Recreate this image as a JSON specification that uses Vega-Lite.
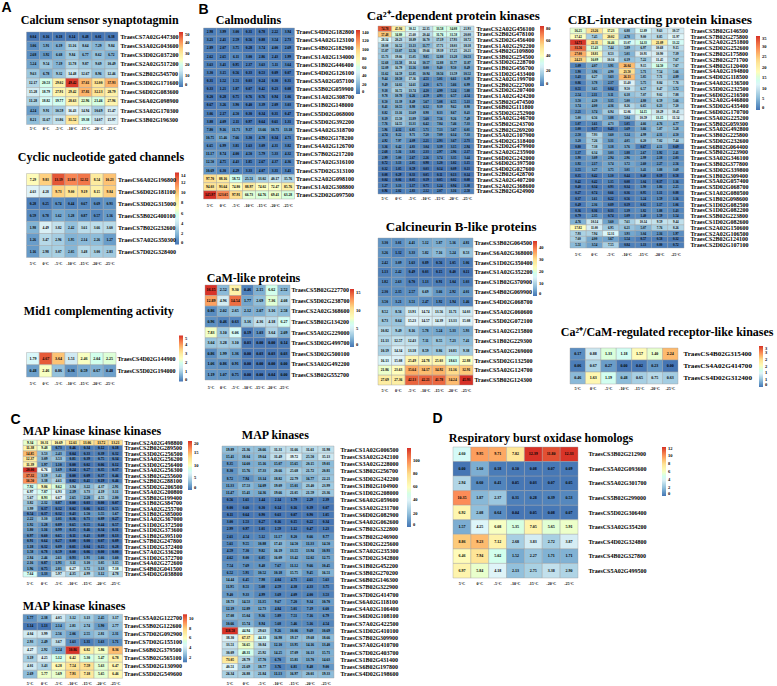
{"$schema":"https://vega.github.io/schema/vega-lite/v6.json","padding":0,"background":"white","config":{"view":{"stroke":null},"scale":{"bandPaddingInner":0,"bandPaddingOuter":0},"axis":{"grid":false,"domain":false,"ticks":false,"labelFont":"Liberation Serif","labelFontWeight":"bold","labelColor":"black","labelOverlap":false,"labelBound":false,"labelFlush":false,"labelLimit":300},"legend":{"gradientThickness":4,"gradientStrokeWidth":0,"labelFont":"Liberation Serif","labelFontSize":4.5,"labelFontWeight":"bold","labelColor":"black","labelOffset":2,"labelOverlap":false,"padding":0},"title":{"font":"Liberation Serif","fontWeight":"bold","color":"black","fontSize":12,"anchor":"start","baseline":"alphabetic"},"text":{"font":"Liberation Serif","fontWeight":"bold","fontSize":3.6,"color":"black"},"rect":{"stroke":"#a0a0a0","strokeWidth":0.4}},
"datasets":{
"a1":[{"gene":"TraesCS7A02G447300","temp":5,"value":0.04},{"gene":"TraesCS7A02G447300","temp":0,"value":0.16},{"gene":"TraesCS7A02G447300","temp":-5,"value":0.18},{"gene":"TraesCS7A02G447300","temp":-10,"value":0.14},{"gene":"TraesCS7A02G447300","temp":-15,"value":0.48},{"gene":"TraesCS7A02G447300","temp":-20,"value":0.01},{"gene":"TraesCS7A02G447300","temp":-25,"value":0.38},
{"gene":"TraesCS3A02G043600","temp":5,"value":3.06},{"gene":"TraesCS3A02G043600","temp":0,"value":5.91},{"gene":"TraesCS3A02G043600","temp":-5,"value":6.19},{"gene":"TraesCS3A02G043600","temp":-10,"value":11.16},{"gene":"TraesCS3A02G043600","temp":-15,"value":8.64},{"gene":"TraesCS3A02G043600","temp":-20,"value":7.29},{"gene":"TraesCS3A02G043600","temp":-25,"value":9.84},
{"gene":"TraesCS3D02G037200","temp":5,"value":2.68},{"gene":"TraesCS3D02G037200","temp":0,"value":3.92},{"gene":"TraesCS3D02G037200","temp":-5,"value":6.68},{"gene":"TraesCS3D02G037200","temp":-10,"value":9.84},{"gene":"TraesCS3D02G037200","temp":-15,"value":6.77},{"gene":"TraesCS3D02G037200","temp":-20,"value":8.62},{"gene":"TraesCS3D02G037200","temp":-25,"value":6.72},
{"gene":"TraesCS2A02G517200","temp":5,"value":5.24},{"gene":"TraesCS2A02G517200","temp":0,"value":9.54},{"gene":"TraesCS2A02G517200","temp":-5,"value":7.19},{"gene":"TraesCS2A02G517200","temp":-10,"value":11.78},{"gene":"TraesCS2A02G517200","temp":-15,"value":9.87},{"gene":"TraesCS2A02G517200","temp":-20,"value":9.69},{"gene":"TraesCS2A02G517200","temp":-25,"value":10.49},
{"gene":"TraesCS2B02G545700","temp":5,"value":9.63},{"gene":"TraesCS2B02G545700","temp":0,"value":6.78},{"gene":"TraesCS2B02G545700","temp":-5,"value":9.32},{"gene":"TraesCS2B02G545700","temp":-10,"value":14.48},{"gene":"TraesCS2B02G545700","temp":-15,"value":12.67},{"gene":"TraesCS2B02G545700","temp":-20,"value":8.96},{"gene":"TraesCS2B02G545700","temp":-25,"value":12.46},
{"gene":"TraesCS3D02G171600","temp":5,"value":12.17},{"gene":"TraesCS3D02G171600","temp":0,"value":20.53},{"gene":"TraesCS3D02G171600","temp":-5,"value":29.02},{"gene":"TraesCS3D02G171600","temp":-10,"value":49.42},{"gene":"TraesCS3D02G171600","temp":-15,"value":37.61},{"gene":"TraesCS3D02G171600","temp":-20,"value":32.0},{"gene":"TraesCS3D02G171600","temp":-25,"value":37.93},
{"gene":"TraesCS6D02G083600","temp":5,"value":15.28},{"gene":"TraesCS6D02G083600","temp":0,"value":18.79},{"gene":"TraesCS6D02G083600","temp":-5,"value":27.91},{"gene":"TraesCS6D02G083600","temp":-10,"value":29.42},{"gene":"TraesCS6D02G083600","temp":-15,"value":37.81},{"gene":"TraesCS6D02G083600","temp":-20,"value":32.13},{"gene":"TraesCS6D02G083600","temp":-25,"value":28.79},
{"gene":"TraesCS6A02G098900","temp":5,"value":11.28},{"gene":"TraesCS6A02G098900","temp":0,"value":18.82},{"gene":"TraesCS6A02G098900","temp":-5,"value":19.77},{"gene":"TraesCS6A02G098900","temp":-10,"value":28.63},{"gene":"TraesCS6A02G098900","temp":-15,"value":22.96},{"gene":"TraesCS6A02G098900","temp":-20,"value":21.46},{"gene":"TraesCS6A02G098900","temp":-25,"value":27.96},
{"gene":"TraesCS3A02G170300","temp":5,"value":4.24},{"gene":"TraesCS3A02G170300","temp":0,"value":9.91},{"gene":"TraesCS3A02G170300","temp":-5,"value":10.59},{"gene":"TraesCS3A02G170300","temp":-10,"value":16.43},{"gene":"TraesCS3A02G170300","temp":-15,"value":14.94},{"gene":"TraesCS3A02G170300","temp":-20,"value":10.69},{"gene":"TraesCS3A02G170300","temp":-25,"value":15.47},
{"gene":"TraesCS3B02G196300","temp":5,"value":8.21},{"gene":"TraesCS3B02G196300","temp":0,"value":11.67},{"gene":"TraesCS3B02G196300","temp":-5,"value":13.86},{"gene":"TraesCS3B02G196300","temp":-10,"value":31.52},{"gene":"TraesCS3B02G196300","temp":-15,"value":19.38},{"gene":"TraesCS3B02G196300","temp":-20,"value":14.07},{"gene":"TraesCS3B02G196300","temp":-25,"value":15.97}],
"a2":[{"gene":"TraesCS6A02G196800","temp":5,"value":7.29},{"gene":"TraesCS6A02G196800","temp":0,"value":9.83},{"gene":"TraesCS6A02G196800","temp":-5,"value":13.19},{"gene":"TraesCS6A02G196800","temp":-10,"value":11.88},{"gene":"TraesCS6A02G196800","temp":-15,"value":12.32},{"gene":"TraesCS6A02G196800","temp":-20,"value":8.54},{"gene":"TraesCS6A02G196800","temp":-25,"value":10.23},
{"gene":"TraesCS6D02G181100","temp":5,"value":4.63},{"gene":"TraesCS6D02G181100","temp":0,"value":4.28},{"gene":"TraesCS6D02G181100","temp":-5,"value":9.73},{"gene":"TraesCS6D02G181100","temp":-10,"value":9.0},{"gene":"TraesCS6D02G181100","temp":-15,"value":9.19},{"gene":"TraesCS6D02G181100","temp":-20,"value":8.15},{"gene":"TraesCS6D02G181100","temp":-25,"value":9.84},
{"gene":"TraesCS3D02G315000","temp":5,"value":0.28},{"gene":"TraesCS3D02G315000","temp":0,"value":0.25},{"gene":"TraesCS3D02G315000","temp":-5,"value":0.74},{"gene":"TraesCS3D02G315000","temp":-10,"value":0.44},{"gene":"TraesCS3D02G315000","temp":-15,"value":0.67},{"gene":"TraesCS3D02G315000","temp":-20,"value":0.69},{"gene":"TraesCS3D02G315000","temp":-25,"value":0.93},
{"gene":"TraesCS5B02G400100","temp":5,"value":0.59},{"gene":"TraesCS5B02G400100","temp":0,"value":0.78},{"gene":"TraesCS5B02G400100","temp":-5,"value":1.62},{"gene":"TraesCS5B02G400100","temp":-10,"value":1.28},{"gene":"TraesCS5B02G400100","temp":-15,"value":0.87},{"gene":"TraesCS5B02G400100","temp":-20,"value":0.57},{"gene":"TraesCS5B02G400100","temp":-25,"value":1.16},
{"gene":"TraesCS7B02G232600","temp":5,"value":1.98},{"gene":"TraesCS7B02G232600","temp":0,"value":4.49},{"gene":"TraesCS7B02G232600","temp":-5,"value":3.82},{"gene":"TraesCS7B02G232600","temp":-10,"value":2.42},{"gene":"TraesCS7B02G232600","temp":-15,"value":3.61},{"gene":"TraesCS7B02G232600","temp":-20,"value":3.66},{"gene":"TraesCS7B02G232600","temp":-25,"value":3.6},
{"gene":"TraesCS7A02G350300","temp":5,"value":1.26},{"gene":"TraesCS7A02G350300","temp":0,"value":3.47},{"gene":"TraesCS7A02G350300","temp":-5,"value":2.96},{"gene":"TraesCS7A02G350300","temp":-10,"value":1.95},{"gene":"TraesCS7A02G350300","temp":-15,"value":2.14},{"gene":"TraesCS7A02G350300","temp":-20,"value":2.26},{"gene":"TraesCS7A02G350300","temp":-25,"value":1.27},
{"gene":"TraesCS7D02G328400","temp":5,"value":1.16},{"gene":"TraesCS7D02G328400","temp":0,"value":2.98},{"gene":"TraesCS7D02G328400","temp":-5,"value":3.07},{"gene":"TraesCS7D02G328400","temp":-10,"value":2.05},{"gene":"TraesCS7D02G328400","temp":-15,"value":3.48},{"gene":"TraesCS7D02G328400","temp":-20,"value":3.0},{"gene":"TraesCS7D02G328400","temp":-25,"value":2.83}],
"a3":[{"gene":"TraesCS4D02G144900","temp":5,"value":1.79},{"gene":"TraesCS4D02G144900","temp":0,"value":4.67},{"gene":"TraesCS4D02G144900","temp":-5,"value":3.64},{"gene":"TraesCS4D02G144900","temp":-10,"value":1.51},{"gene":"TraesCS4D02G144900","temp":-15,"value":2.46},{"gene":"TraesCS4D02G144900","temp":-20,"value":2.04},{"gene":"TraesCS4D02G144900","temp":-25,"value":2.25},
{"gene":"TraesCS5D02G194000","temp":5,"value":0.48},{"gene":"TraesCS5D02G194000","temp":0,"value":2.46},{"gene":"TraesCS5D02G194000","temp":-5,"value":0.86},{"gene":"TraesCS5D02G194000","temp":-10,"value":0.36},{"gene":"TraesCS5D02G194000","temp":-15,"value":0.59},{"gene":"TraesCS5D02G194000","temp":-20,"value":0.67},{"gene":"TraesCS5D02G194000","temp":-25,"value":0.48}],
"b1":[{"gene":"TraesCS4D02G182800","temp":5,"value":2.98},{"gene":"TraesCS4D02G182800","temp":0,"value":3.99},{"gene":"TraesCS4D02G182800","temp":-5,"value":3.0},{"gene":"TraesCS4D02G182800","temp":-10,"value":0.31},{"gene":"TraesCS4D02G182800","temp":-15,"value":0.78},{"gene":"TraesCS4D02G182800","temp":-20,"value":2.22},{"gene":"TraesCS4D02G182800","temp":-25,"value":3.94},
{"gene":"TraesCS4A02G123100","temp":5,"value":3.21},{"gene":"TraesCS4A02G123100","temp":0,"value":2.41},{"gene":"TraesCS4A02G123100","temp":-5,"value":2.59},{"gene":"TraesCS4A02G123100","temp":-10,"value":0.56},{"gene":"TraesCS4A02G123100","temp":-15,"value":0.88},{"gene":"TraesCS4A02G123100","temp":-20,"value":3.54},{"gene":"TraesCS4A02G123100","temp":-25,"value":2.73},
{"gene":"TraesCS4B02G182900","temp":5,"value":2.89},{"gene":"TraesCS4B02G182900","temp":0,"value":2.07},{"gene":"TraesCS4B02G182900","temp":-5,"value":3.75},{"gene":"TraesCS4B02G182900","temp":-10,"value":0.28},{"gene":"TraesCS4B02G182900","temp":-15,"value":3.74},{"gene":"TraesCS4B02G182900","temp":-20,"value":4.0},{"gene":"TraesCS4B02G182900","temp":-25,"value":2.69},
{"gene":"TraesCS1A02G134000","temp":5,"value":2.62},{"gene":"TraesCS1A02G134000","temp":0,"value":2.65},{"gene":"TraesCS1A02G134000","temp":-5,"value":6.11},{"gene":"TraesCS1A02G134000","temp":-10,"value":3.0},{"gene":"TraesCS1A02G134000","temp":-15,"value":2.86},{"gene":"TraesCS1A02G134000","temp":-20,"value":2.43},{"gene":"TraesCS1A02G134000","temp":-25,"value":1.99},
{"gene":"TraesCS1B02G446400","temp":5,"value":3.63},{"gene":"TraesCS1B02G446400","temp":0,"value":3.41},{"gene":"TraesCS1B02G446400","temp":-5,"value":0.95},{"gene":"TraesCS1B02G446400","temp":-10,"value":2.37},{"gene":"TraesCS1B02G446400","temp":-15,"value":3.63},{"gene":"TraesCS1B02G446400","temp":-20,"value":5.11},{"gene":"TraesCS1B02G446400","temp":-25,"value":3.64},
{"gene":"TraesCS4D02G126100","temp":5,"value":3.3},{"gene":"TraesCS4D02G126100","temp":0,"value":3.15},{"gene":"TraesCS4D02G126100","temp":-5,"value":0.56},{"gene":"TraesCS4D02G126100","temp":-10,"value":0.33},{"gene":"TraesCS4D02G126100","temp":-15,"value":0.53},{"gene":"TraesCS4D02G126100","temp":-20,"value":0.09},{"gene":"TraesCS4D02G126100","temp":-25,"value":0.07},
{"gene":"TraesCS5A02G057100","temp":5,"value":0.31},{"gene":"TraesCS5A02G057100","temp":0,"value":1.52},{"gene":"TraesCS5A02G057100","temp":-5,"value":1.51},{"gene":"TraesCS5A02G057100","temp":-10,"value":0.03},{"gene":"TraesCS5A02G057100","temp":-15,"value":0.24},{"gene":"TraesCS5A02G057100","temp":-20,"value":0.3},{"gene":"TraesCS5A02G057100","temp":-25,"value":0.31},
{"gene":"TraesCS5B02G059900","temp":5,"value":0.33},{"gene":"TraesCS5B02G059900","temp":0,"value":1.21},{"gene":"TraesCS5B02G059900","temp":-5,"value":1.87},{"gene":"TraesCS5B02G059900","temp":-10,"value":0.07},{"gene":"TraesCS5B02G059900","temp":-15,"value":0.42},{"gene":"TraesCS5B02G059900","temp":-20,"value":0.23},{"gene":"TraesCS5B02G059900","temp":-25,"value":0.08},
{"gene":"TraesCS1A02G308700","temp":5,"value":0.2},{"gene":"TraesCS1A02G308700","temp":0,"value":0.28},{"gene":"TraesCS1A02G308700","temp":-5,"value":0.75},{"gene":"TraesCS1A02G308700","temp":-10,"value":0.76},{"gene":"TraesCS1A02G308700","temp":-15,"value":0.76},{"gene":"TraesCS1A02G308700","temp":-20,"value":0.94},{"gene":"TraesCS1A02G308700","temp":-25,"value":1.06},
{"gene":"TraesCS1B02G148000","temp":5,"value":0.67},{"gene":"TraesCS1B02G148000","temp":0,"value":3.26},{"gene":"TraesCS1B02G148000","temp":-5,"value":3.9},{"gene":"TraesCS1B02G148000","temp":-10,"value":0.4},{"gene":"TraesCS1B02G148000","temp":-15,"value":3.39},{"gene":"TraesCS1B02G148000","temp":-20,"value":2.09},{"gene":"TraesCS1B02G148000","temp":-25,"value":3.03},
{"gene":"TraesCS5D02G068000","temp":5,"value":3.06},{"gene":"TraesCS5D02G068000","temp":0,"value":2.17},{"gene":"TraesCS5D02G068000","temp":-5,"value":4.5},{"gene":"TraesCS5D02G068000","temp":-10,"value":0.3},{"gene":"TraesCS5D02G068000","temp":-15,"value":0.34},{"gene":"TraesCS5D02G068000","temp":-20,"value":0.31},{"gene":"TraesCS5D02G068000","temp":-25,"value":0.47},
{"gene":"TraesCS5D02G392200","temp":5,"value":3.88},{"gene":"TraesCS5D02G392200","temp":0,"value":4.09},{"gene":"TraesCS5D02G392200","temp":-5,"value":2.11},{"gene":"TraesCS5D02G392200","temp":-10,"value":0.97},{"gene":"TraesCS5D02G392200","temp":-15,"value":0.64},{"gene":"TraesCS5D02G392200","temp":-20,"value":0.61},{"gene":"TraesCS5D02G392200","temp":-25,"value":1.31},
{"gene":"TraesCS4A02G318700","temp":5,"value":7.8},{"gene":"TraesCS4A02G318700","temp":0,"value":9.16},{"gene":"TraesCS4A02G318700","temp":-5,"value":11.71},{"gene":"TraesCS4A02G318700","temp":-10,"value":9.37},{"gene":"TraesCS4A02G318700","temp":-15,"value":13.66},{"gene":"TraesCS4A02G318700","temp":-20,"value":10.71},{"gene":"TraesCS4A02G318700","temp":-25,"value":13.18},
{"gene":"TraesCS4B02G178200","temp":5,"value":10.75},{"gene":"TraesCS4B02G178200","temp":0,"value":15.46},{"gene":"TraesCS4B02G178200","temp":-5,"value":7.66},{"gene":"TraesCS4B02G178200","temp":-10,"value":3.3},{"gene":"TraesCS4B02G178200","temp":-15,"value":4.78},{"gene":"TraesCS4B02G178200","temp":-20,"value":0.34},{"gene":"TraesCS4B02G178200","temp":-25,"value":4.71},
{"gene":"TraesCS4A02G126700","temp":5,"value":6.65},{"gene":"TraesCS4A02G126700","temp":0,"value":6.99},{"gene":"TraesCS4A02G126700","temp":-5,"value":3.81},{"gene":"TraesCS4A02G126700","temp":-10,"value":1.63},{"gene":"TraesCS4A02G126700","temp":-15,"value":3.09},{"gene":"TraesCS4A02G126700","temp":-20,"value":4.31},{"gene":"TraesCS4A02G126700","temp":-25,"value":3.82},
{"gene":"TraesCS7B02G217200","temp":5,"value":11.17},{"gene":"TraesCS7B02G217200","temp":0,"value":8.74},{"gene":"TraesCS7B02G217200","temp":-5,"value":4.0},{"gene":"TraesCS7B02G217200","temp":-10,"value":4.5},{"gene":"TraesCS7B02G217200","temp":-15,"value":5.79},{"gene":"TraesCS7B02G217200","temp":-20,"value":5.33},{"gene":"TraesCS7B02G217200","temp":-25,"value":4.32},
{"gene":"TraesCS7A02G316100","temp":5,"value":12.5},{"gene":"TraesCS7A02G316100","temp":0,"value":4.75},{"gene":"TraesCS7A02G316100","temp":-5,"value":4.43},{"gene":"TraesCS7A02G316100","temp":-10,"value":1.85},{"gene":"TraesCS7A02G316100","temp":-15,"value":2.67},{"gene":"TraesCS7A02G316100","temp":-20,"value":4.37},{"gene":"TraesCS7A02G316100","temp":-25,"value":4.36},
{"gene":"TraesCS7D02G313100","temp":5,"value":10.69},{"gene":"TraesCS7D02G313100","temp":0,"value":6.3},{"gene":"TraesCS7D02G313100","temp":-5,"value":4.29},{"gene":"TraesCS7D02G313100","temp":-10,"value":3.33},{"gene":"TraesCS7D02G313100","temp":-15,"value":4.07},{"gene":"TraesCS7D02G313100","temp":-20,"value":3.31},{"gene":"TraesCS7D02G313100","temp":-25,"value":3.41},
{"gene":"TraesCS2A02G098100","temp":5,"value":97.7},{"gene":"TraesCS2A02G098100","temp":0,"value":88.16},{"gene":"TraesCS2A02G098100","temp":-5,"value":58.72},{"gene":"TraesCS2A02G098100","temp":-10,"value":25.51},{"gene":"TraesCS2A02G098100","temp":-15,"value":33.02},{"gene":"TraesCS2A02G098100","temp":-20,"value":40.17},{"gene":"TraesCS2A02G098100","temp":-25,"value":35.76},
{"gene":"TraesCS1A02G308800","temp":5,"value":94.03},{"gene":"TraesCS1A02G308800","temp":0,"value":93.64},{"gene":"TraesCS1A02G308800","temp":-5,"value":74.8},{"gene":"TraesCS1A02G308800","temp":-10,"value":88.97},{"gene":"TraesCS1A02G308800","temp":-15,"value":74.02},{"gene":"TraesCS1A02G308800","temp":-20,"value":72.47},{"gene":"TraesCS1A02G308800","temp":-25,"value":85.76},
{"gene":"TraesCS2D02G097500","temp":5,"value":145.97},{"gene":"TraesCS2D02G097500","temp":0,"value":123.05},{"gene":"TraesCS2D02G097500","temp":-5,"value":97.91},{"gene":"TraesCS2D02G097500","temp":-10,"value":66.73},{"gene":"TraesCS2D02G097500","temp":-15,"value":64.76},{"gene":"TraesCS2D02G097500","temp":-20,"value":69.41},{"gene":"TraesCS2D02G097500","temp":-25,"value":63.28}],
"b2":[{"gene":"TraesCS5B02G227700","temp":5,"value":16.15},{"gene":"TraesCS5B02G227700","temp":0,"value":2.52},{"gene":"TraesCS5B02G227700","temp":-5,"value":9.3},{"gene":"TraesCS5B02G227700","temp":-10,"value":0.46},{"gene":"TraesCS5B02G227700","temp":-15,"value":2.15},{"gene":"TraesCS5B02G227700","temp":-20,"value":6.62},{"gene":"TraesCS5B02G227700","temp":-25,"value":2.52},
{"gene":"TraesCS5D02G238700","temp":5,"value":12.89},{"gene":"TraesCS5D02G238700","temp":0,"value":4.96},{"gene":"TraesCS5D02G238700","temp":-5,"value":14.54},{"gene":"TraesCS5D02G238700","temp":-10,"value":1.77},{"gene":"TraesCS5D02G238700","temp":-15,"value":2.69},{"gene":"TraesCS5D02G238700","temp":-20,"value":7.36},{"gene":"TraesCS5D02G238700","temp":-25,"value":4.08},
{"gene":"TraesCS2A02G368600","temp":5,"value":0.86},{"gene":"TraesCS2A02G368600","temp":0,"value":2.02},{"gene":"TraesCS2A02G368600","temp":-5,"value":2.65},{"gene":"TraesCS2A02G368600","temp":-10,"value":2.12},{"gene":"TraesCS2A02G368600","temp":-15,"value":2.07},{"gene":"TraesCS2A02G368600","temp":-20,"value":3.16},{"gene":"TraesCS2A02G368600","temp":-25,"value":2.58},
{"gene":"TraesCS5B02G134200","temp":5,"value":0.96},{"gene":"TraesCS5B02G134200","temp":0,"value":0.46},{"gene":"TraesCS5B02G134200","temp":-5,"value":0.63},{"gene":"TraesCS5B02G134200","temp":-10,"value":3.16},{"gene":"TraesCS5B02G134200","temp":-15,"value":4.36},{"gene":"TraesCS5B02G134200","temp":-20,"value":4.18},{"gene":"TraesCS5B02G134200","temp":-25,"value":6.27},
{"gene":"TraesCS5A02G229000","temp":5,"value":7.83},{"gene":"TraesCS5A02G229000","temp":0,"value":3.1},{"gene":"TraesCS5A02G229000","temp":-5,"value":6.06},{"gene":"TraesCS5A02G229000","temp":-10,"value":0.19},{"gene":"TraesCS5A02G229000","temp":-15,"value":1.03},{"gene":"TraesCS5A02G229000","temp":-20,"value":3.64},{"gene":"TraesCS5A02G229000","temp":-25,"value":2.09},
{"gene":"TraesCS3D02G499700","temp":5,"value":3.04},{"gene":"TraesCS3D02G499700","temp":0,"value":3.28},{"gene":"TraesCS3D02G499700","temp":-5,"value":3.1},{"gene":"TraesCS3D02G499700","temp":-10,"value":0.03},{"gene":"TraesCS3D02G499700","temp":-15,"value":0.0},{"gene":"TraesCS3D02G499700","temp":-20,"value":0.0},{"gene":"TraesCS3D02G499700","temp":-25,"value":0.14},
{"gene":"TraesCS3D02G500100","temp":5,"value":0.86},{"gene":"TraesCS3D02G500100","temp":0,"value":1.99},{"gene":"TraesCS3D02G500100","temp":-5,"value":1.36},{"gene":"TraesCS3D02G500100","temp":-10,"value":0.0},{"gene":"TraesCS3D02G500100","temp":-15,"value":0.03},{"gene":"TraesCS3D02G500100","temp":-20,"value":0.03},{"gene":"TraesCS3D02G500100","temp":-25,"value":0.03},
{"gene":"TraesCS3A02G492200","temp":5,"value":1.06},{"gene":"TraesCS3A02G492200","temp":0,"value":0.86},{"gene":"TraesCS3A02G492200","temp":-5,"value":0.91},{"gene":"TraesCS3A02G492200","temp":-10,"value":0.0},{"gene":"TraesCS3A02G492200","temp":-15,"value":0.0},{"gene":"TraesCS3A02G492200","temp":-20,"value":0.0},{"gene":"TraesCS3A02G492200","temp":-25,"value":0.0},
{"gene":"TraesCS3B02G552700","temp":5,"value":1.19},{"gene":"TraesCS3B02G552700","temp":0,"value":1.07},{"gene":"TraesCS3B02G552700","temp":-5,"value":0.75},{"gene":"TraesCS3B02G552700","temp":-10,"value":0.0},{"gene":"TraesCS3B02G552700","temp":-15,"value":0.0},{"gene":"TraesCS3B02G552700","temp":-20,"value":0.04},{"gene":"TraesCS3B02G552700","temp":-25,"value":0.0}],
"ca":[{"gene":"TraesCS2A02G456100","temp":5,"value":74.78},{"gene":"TraesCS2A02G456100","temp":0,"value":45.94},{"gene":"TraesCS2A02G456100","temp":-5,"value":30.12},{"gene":"TraesCS2A02G456100","temp":-10,"value":22.35},{"gene":"TraesCS2A02G456100","temp":-15,"value":33.58},{"gene":"TraesCS2A02G456100","temp":-20,"value":34.08},{"gene":"TraesCS2A02G456100","temp":-25,"value":21.93},
{"gene":"TraesCS2B02G478100","temp":5,"value":57.48},{"gene":"TraesCS2B02G478100","temp":0,"value":34.8},{"gene":"TraesCS2B02G478100","temp":-5,"value":25.6},{"gene":"TraesCS2B02G478100","temp":-10,"value":20.44},{"gene":"TraesCS2B02G478100","temp":-15,"value":31.76},{"gene":"TraesCS2B02G478100","temp":-20,"value":31.58},{"gene":"TraesCS2B02G478100","temp":-25,"value":20.0},
{"gene":"TraesCS2D02G456400","temp":5,"value":28.34},{"gene":"TraesCS2D02G456400","temp":0,"value":20.23},{"gene":"TraesCS2D02G456400","temp":-5,"value":18.89},{"gene":"TraesCS2D02G456400","temp":-10,"value":16.7},{"gene":"TraesCS2D02G456400","temp":-15,"value":17.19},{"gene":"TraesCS2D02G456400","temp":-20,"value":17.93},{"gene":"TraesCS2D02G456400","temp":-25,"value":18.72},
{"gene":"TraesCS1A02G292200","temp":5,"value":18.08},{"gene":"TraesCS1A02G292200","temp":0,"value":16.52},{"gene":"TraesCS1A02G292200","temp":-5,"value":13.13},{"gene":"TraesCS1A02G292200","temp":-10,"value":11.77},{"gene":"TraesCS1A02G292200","temp":-15,"value":17.71},{"gene":"TraesCS1A02G292200","temp":-20,"value":18.03},{"gene":"TraesCS1A02G292200","temp":-25,"value":18.18},
{"gene":"TraesCS4B02G109800","temp":5,"value":15.87},{"gene":"TraesCS4B02G109800","temp":0,"value":13.07},{"gene":"TraesCS4B02G109800","temp":-5,"value":12.56},{"gene":"TraesCS4B02G109800","temp":-10,"value":19.66},{"gene":"TraesCS4B02G109800","temp":-15,"value":19.39},{"gene":"TraesCS4B02G109800","temp":-20,"value":17.25},{"gene":"TraesCS4B02G109800","temp":-25,"value":20.21},
{"gene":"TraesCS3B02G254500","temp":5,"value":15.73},{"gene":"TraesCS3B02G254500","temp":0,"value":19.06},{"gene":"TraesCS3B02G254500","temp":-5,"value":15.05},{"gene":"TraesCS3B02G254500","temp":-10,"value":9.85},{"gene":"TraesCS3B02G254500","temp":-15,"value":12.88},{"gene":"TraesCS3B02G254500","temp":-20,"value":13.28},{"gene":"TraesCS3B02G254500","temp":-25,"value":10.53},
{"gene":"TraesCS3D02G228700","temp":5,"value":12.68},{"gene":"TraesCS3D02G228700","temp":0,"value":11.58},{"gene":"TraesCS3D02G228700","temp":-5,"value":18.34},{"gene":"TraesCS3D02G228700","temp":-10,"value":10.57},{"gene":"TraesCS3D02G228700","temp":-15,"value":12.88},{"gene":"TraesCS3D02G228700","temp":-20,"value":11.77},{"gene":"TraesCS3D02G228700","temp":-25,"value":11.87},
{"gene":"TraesCS1B02G456700","temp":5,"value":12.09},{"gene":"TraesCS1B02G456700","temp":0,"value":16.79},{"gene":"TraesCS1B02G456700","temp":-5,"value":11.16},{"gene":"TraesCS1B02G456700","temp":-10,"value":8.0},{"gene":"TraesCS1B02G456700","temp":-15,"value":9.4},{"gene":"TraesCS1B02G456700","temp":-20,"value":9.5},{"gene":"TraesCS1B02G456700","temp":-25,"value":8.49},
{"gene":"TraesCS1D02G433400","temp":5,"value":11.62},{"gene":"TraesCS1D02G433400","temp":0,"value":14.59},{"gene":"TraesCS1D02G433400","temp":-5,"value":12.85},{"gene":"TraesCS1D02G433400","temp":-10,"value":10.94},{"gene":"TraesCS1D02G433400","temp":-15,"value":10.56},{"gene":"TraesCS1D02G433400","temp":-20,"value":13.59},{"gene":"TraesCS1D02G433400","temp":-25,"value":10.52},
{"gene":"TraesCS2A02G199700","temp":5,"value":9.44},{"gene":"TraesCS2A02G199700","temp":0,"value":10.5},{"gene":"TraesCS2A02G199700","temp":-5,"value":17.36},{"gene":"TraesCS2A02G199700","temp":-10,"value":4.51},{"gene":"TraesCS2A02G199700","temp":-15,"value":5.01},{"gene":"TraesCS2A02G199700","temp":-20,"value":6.61},{"gene":"TraesCS2A02G199700","temp":-25,"value":6.39},
{"gene":"TraesCS2B02G227000","temp":5,"value":9.49},{"gene":"TraesCS2B02G227000","temp":0,"value":14.02},{"gene":"TraesCS2B02G227000","temp":-5,"value":14.61},{"gene":"TraesCS2B02G227000","temp":-10,"value":4.2},{"gene":"TraesCS2B02G227000","temp":-15,"value":6.71},{"gene":"TraesCS2B02G227000","temp":-20,"value":5.66},{"gene":"TraesCS2B02G227000","temp":-25,"value":6.99},
{"gene":"TraesCS2D02G207400","temp":5,"value":9.18},{"gene":"TraesCS2D02G207400","temp":0,"value":16.72},{"gene":"TraesCS2D02G207400","temp":-5,"value":13.74},{"gene":"TraesCS2D02G207400","temp":-10,"value":4.2},{"gene":"TraesCS2D02G207400","temp":-15,"value":4.99},{"gene":"TraesCS2D02G207400","temp":-20,"value":5.24},{"gene":"TraesCS2D02G207400","temp":-25,"value":5.88},
{"gene":"TraesCS1A02G424200","temp":5,"value":9.78},{"gene":"TraesCS1A02G424200","temp":0,"value":10.78},{"gene":"TraesCS1A02G424200","temp":-5,"value":6.26},{"gene":"TraesCS1A02G424200","temp":-10,"value":4.59},{"gene":"TraesCS1A02G424200","temp":-15,"value":4.93},{"gene":"TraesCS1A02G424200","temp":-20,"value":6.57},{"gene":"TraesCS1A02G424200","temp":-25,"value":4.54},
{"gene":"TraesCS5B02G474500","temp":5,"value":8.5},{"gene":"TraesCS5B02G474500","temp":0,"value":11.39},{"gene":"TraesCS5B02G474500","temp":-5,"value":8.49},{"gene":"TraesCS5B02G474500","temp":-10,"value":5.67},{"gene":"TraesCS5B02G474500","temp":-15,"value":5.08},{"gene":"TraesCS5B02G474500","temp":-20,"value":6.55},{"gene":"TraesCS5B02G474500","temp":-25,"value":5.13},
{"gene":"TraesCS6B02G111800","temp":5,"value":8.41},{"gene":"TraesCS6B02G111800","temp":0,"value":10.55},{"gene":"TraesCS6B02G111800","temp":-5,"value":8.98},{"gene":"TraesCS6B02G111800","temp":-10,"value":6.12},{"gene":"TraesCS6B02G111800","temp":-15,"value":9.39},{"gene":"TraesCS6B02G111800","temp":-20,"value":9.62},{"gene":"TraesCS6B02G111800","temp":-25,"value":8.98},
{"gene":"TraesCS5D02G252900","temp":5,"value":8.82},{"gene":"TraesCS5D02G252900","temp":0,"value":13.16},{"gene":"TraesCS5D02G252900","temp":-5,"value":11.69},{"gene":"TraesCS5D02G252900","temp":-10,"value":8.98},{"gene":"TraesCS5D02G252900","temp":-15,"value":8.33},{"gene":"TraesCS5D02G252900","temp":-20,"value":8.67},{"gene":"TraesCS5D02G252900","temp":-25,"value":8.43},
{"gene":"TraesCS5A02G246700","temp":5,"value":8.19},{"gene":"TraesCS5A02G246700","temp":0,"value":15.5},{"gene":"TraesCS5A02G246700","temp":-5,"value":11.89},{"gene":"TraesCS5A02G246700","temp":-10,"value":5.6},{"gene":"TraesCS5A02G246700","temp":-15,"value":7.56},{"gene":"TraesCS5A02G246700","temp":-20,"value":9.26},{"gene":"TraesCS5A02G246700","temp":-25,"value":7.49},
{"gene":"TraesCS5B02G243700","temp":5,"value":7.76},{"gene":"TraesCS5B02G243700","temp":0,"value":14.55},{"gene":"TraesCS5B02G243700","temp":-5,"value":11.31},{"gene":"TraesCS5B02G243700","temp":-10,"value":6.42},{"gene":"TraesCS5B02G243700","temp":-15,"value":7.84},{"gene":"TraesCS5B02G243700","temp":-20,"value":7.46},{"gene":"TraesCS5B02G243700","temp":-25,"value":7.33},
{"gene":"TraesCS2B02G269200","temp":5,"value":5.96},{"gene":"TraesCS2B02G269200","temp":0,"value":4.32},{"gene":"TraesCS2B02G269200","temp":-5,"value":6.85},{"gene":"TraesCS2B02G269200","temp":-10,"value":5.71},{"gene":"TraesCS2B02G269200","temp":-15,"value":7.13},{"gene":"TraesCS2B02G269200","temp":-20,"value":5.67},{"gene":"TraesCS2B02G269200","temp":-25,"value":6.01},
{"gene":"TraesCS5A02G107900","temp":5,"value":4.74},{"gene":"TraesCS5A02G107900","temp":0,"value":8.22},{"gene":"TraesCS5A02G107900","temp":-5,"value":9.71},{"gene":"TraesCS5A02G107900","temp":-10,"value":7.2},{"gene":"TraesCS5A02G107900","temp":-15,"value":7.09},{"gene":"TraesCS5A02G107900","temp":-20,"value":6.14},{"gene":"TraesCS5A02G107900","temp":-25,"value":7.33},
{"gene":"TraesCS4D02G318400","temp":5,"value":4.92},{"gene":"TraesCS4D02G318400","temp":0,"value":7.97},{"gene":"TraesCS4D02G318400","temp":-5,"value":4.09},{"gene":"TraesCS4D02G318400","temp":-10,"value":2.21},{"gene":"TraesCS4D02G318400","temp":-15,"value":2.93},{"gene":"TraesCS4D02G318400","temp":-20,"value":3.67},{"gene":"TraesCS4D02G318400","temp":-25,"value":2.73},
{"gene":"TraesCS2D02G479900","temp":5,"value":3.36},{"gene":"TraesCS2D02G479900","temp":0,"value":6.42},{"gene":"TraesCS2D02G479900","temp":-5,"value":4.83},{"gene":"TraesCS2D02G479900","temp":-10,"value":3.04},{"gene":"TraesCS2D02G479900","temp":-15,"value":3.39},{"gene":"TraesCS2D02G479900","temp":-20,"value":3.15},{"gene":"TraesCS2D02G479900","temp":-25,"value":2.94},
{"gene":"TraesCS2A02G235900","temp":5,"value":2.68},{"gene":"TraesCS2A02G235900","temp":0,"value":5.16},{"gene":"TraesCS2A02G235900","temp":-5,"value":3.81},{"gene":"TraesCS2A02G235900","temp":-10,"value":2.33},{"gene":"TraesCS2A02G235900","temp":-15,"value":2.97},{"gene":"TraesCS2A02G235900","temp":-20,"value":2.96},{"gene":"TraesCS2A02G235900","temp":-25,"value":2.17},
{"gene":"TraesCS6D02G242000","temp":5,"value":2.99},{"gene":"TraesCS6D02G242000","temp":0,"value":5.0},{"gene":"TraesCS6D02G242000","temp":-5,"value":2.67},{"gene":"TraesCS6D02G242000","temp":-10,"value":2.26},{"gene":"TraesCS6D02G242000","temp":-15,"value":3.74},{"gene":"TraesCS6D02G242000","temp":-20,"value":3.35},{"gene":"TraesCS6D02G242000","temp":-25,"value":3.44},
{"gene":"TraesCS6D02G397500","temp":5,"value":0.72},{"gene":"TraesCS6D02G397500","temp":0,"value":3.13},{"gene":"TraesCS6D02G397500","temp":-5,"value":2.05},{"gene":"TraesCS6D02G397500","temp":-10,"value":0.98},{"gene":"TraesCS6D02G397500","temp":-15,"value":1.2},{"gene":"TraesCS6D02G397500","temp":-20,"value":1.02},{"gene":"TraesCS6D02G397500","temp":-25,"value":1.15},
{"gene":"TraesCS4D02G027600","temp":5,"value":0.32},{"gene":"TraesCS4D02G027600","temp":0,"value":1.05},{"gene":"TraesCS4D02G027600","temp":-5,"value":0.59},{"gene":"TraesCS4D02G027600","temp":-10,"value":0.03},{"gene":"TraesCS4D02G027600","temp":-15,"value":0.14},{"gene":"TraesCS4D02G027600","temp":-20,"value":0.09},{"gene":"TraesCS4D02G027600","temp":-25,"value":0.13},
{"gene":"TraesCS2B02G428700","temp":5,"value":0.08},{"gene":"TraesCS2B02G428700","temp":0,"value":0.29},{"gene":"TraesCS2B02G428700","temp":-5,"value":0.33},{"gene":"TraesCS2B02G428700","temp":-10,"value":0.05},{"gene":"TraesCS2B02G428700","temp":-15,"value":0.11},{"gene":"TraesCS2B02G428700","temp":-20,"value":0.13},{"gene":"TraesCS2B02G428700","temp":-25,"value":0.14},
{"gene":"TraesCS2A02G407200","temp":5,"value":0.04},{"gene":"TraesCS2A02G407200","temp":0,"value":0.06},{"gene":"TraesCS2A02G407200","temp":-5,"value":0.05},{"gene":"TraesCS2A02G407200","temp":-10,"value":0.19},{"gene":"TraesCS2A02G407200","temp":-15,"value":0.05},{"gene":"TraesCS2A02G407200","temp":-20,"value":0.02},{"gene":"TraesCS2A02G407200","temp":-25,"value":0.08},
{"gene":"TraesCS2A02G368600","temp":5,"value":1.27},{"gene":"TraesCS2A02G368600","temp":0,"value":3.13},{"gene":"TraesCS2A02G368600","temp":-5,"value":1.17},{"gene":"TraesCS2A02G368600","temp":-10,"value":0.75},{"gene":"TraesCS2A02G368600","temp":-15,"value":1.24},{"gene":"TraesCS2A02G368600","temp":-20,"value":0.94},{"gene":"TraesCS2A02G368600","temp":-25,"value":1.38},
{"gene":"TraesCS2B02G424900","temp":5,"value":0.96},{"gene":"TraesCS2B02G424900","temp":0,"value":2.02},{"gene":"TraesCS2B02G424900","temp":-5,"value":2.83},{"gene":"TraesCS2B02G424900","temp":-10,"value":2.12},{"gene":"TraesCS2B02G424900","temp":-15,"value":2.07},{"gene":"TraesCS2B02G424900","temp":-20,"value":3.16},{"gene":"TraesCS2B02G424900","temp":-25,"value":2.58}],
"cn":[{"gene":"TraesCS3B02G064500","temp":5,"value":3.3},{"gene":"TraesCS3B02G064500","temp":0,"value":3.01},{"gene":"TraesCS3B02G064500","temp":-5,"value":4.41},{"gene":"TraesCS3B02G064500","temp":-10,"value":5.12},{"gene":"TraesCS3B02G064500","temp":-15,"value":5.87},{"gene":"TraesCS3B02G064500","temp":-20,"value":5.16},{"gene":"TraesCS3B02G064500","temp":-25,"value":4.81},
{"gene":"TraesCS6A02G368000","temp":5,"value":3.26},{"gene":"TraesCS6A02G368000","temp":0,"value":1.32},{"gene":"TraesCS6A02G368000","temp":-5,"value":3.33},{"gene":"TraesCS6A02G368000","temp":-10,"value":5.82},{"gene":"TraesCS6A02G368000","temp":-15,"value":7.16},{"gene":"TraesCS6A02G368000","temp":-20,"value":5.24},{"gene":"TraesCS6A02G368000","temp":-25,"value":8.53},
{"gene":"TraesCS1D02G350400","temp":5,"value":2.42},{"gene":"TraesCS1D02G350400","temp":0,"value":3.09},{"gene":"TraesCS1D02G350400","temp":-5,"value":1.63},{"gene":"TraesCS1D02G350400","temp":-10,"value":0.89},{"gene":"TraesCS1D02G350400","temp":-15,"value":0.56},{"gene":"TraesCS1D02G350400","temp":-20,"value":1.05},{"gene":"TraesCS1D02G350400","temp":-25,"value":1.06},
{"gene":"TraesCS1A02G352200","temp":5,"value":1.13},{"gene":"TraesCS1A02G352200","temp":0,"value":2.42},{"gene":"TraesCS1A02G352200","temp":-5,"value":0.49},{"gene":"TraesCS1A02G352200","temp":-10,"value":0.03},{"gene":"TraesCS1A02G352200","temp":-15,"value":0.15},{"gene":"TraesCS1A02G352200","temp":-20,"value":0.4},{"gene":"TraesCS1A02G352200","temp":-25,"value":0.11},
{"gene":"TraesCS1B02G370900","temp":5,"value":1.82},{"gene":"TraesCS1B02G370900","temp":0,"value":2.63},{"gene":"TraesCS1B02G370900","temp":-5,"value":0.7},{"gene":"TraesCS1B02G370900","temp":-10,"value":1.13},{"gene":"TraesCS1B02G370900","temp":-15,"value":0.91},{"gene":"TraesCS1B02G370900","temp":-20,"value":1.04},{"gene":"TraesCS1B02G370900","temp":-25,"value":1.03},
{"gene":"TraesCS4B02G069900","temp":5,"value":2.3},{"gene":"TraesCS4B02G069900","temp":0,"value":2.35},{"gene":"TraesCS4B02G069900","temp":-5,"value":2.57},{"gene":"TraesCS4B02G069900","temp":-10,"value":6.69},{"gene":"TraesCS4B02G069900","temp":-15,"value":3.66},{"gene":"TraesCS4B02G069900","temp":-20,"value":2.92},{"gene":"TraesCS4B02G069900","temp":-25,"value":4.01},
{"gene":"TraesCS4D02G068700","temp":5,"value":3.5},{"gene":"TraesCS4D02G068700","temp":0,"value":3.21},{"gene":"TraesCS4D02G068700","temp":-5,"value":3.51},{"gene":"TraesCS4D02G068700","temp":-10,"value":2.47},{"gene":"TraesCS4D02G068700","temp":-15,"value":1.92},{"gene":"TraesCS4D02G068700","temp":-20,"value":1.94},{"gene":"TraesCS4D02G068700","temp":-25,"value":1.46},
{"gene":"TraesCS5A02G060600","temp":5,"value":8.52},{"gene":"TraesCS5A02G060600","temp":0,"value":8.56},{"gene":"TraesCS5A02G060600","temp":-5,"value":13.91},{"gene":"TraesCS5A02G060600","temp":-10,"value":14.74},{"gene":"TraesCS5A02G060600","temp":-15,"value":13.56},{"gene":"TraesCS5A02G060600","temp":-20,"value":11.71},{"gene":"TraesCS5A02G060600","temp":-25,"value":14.03},
{"gene":"TraesCS5D02G072100","temp":5,"value":8.73},{"gene":"TraesCS5D02G072100","temp":0,"value":8.64},{"gene":"TraesCS5D02G072100","temp":-5,"value":15.23},{"gene":"TraesCS5D02G072100","temp":-10,"value":14.57},{"gene":"TraesCS5D02G072100","temp":-15,"value":14.39},{"gene":"TraesCS5D02G072100","temp":-20,"value":13.33},{"gene":"TraesCS5D02G072100","temp":-25,"value":15.08},
{"gene":"TraesCS1A02G215800","temp":5,"value":10.82},{"gene":"TraesCS1A02G215800","temp":0,"value":9.49},{"gene":"TraesCS1A02G215800","temp":-5,"value":8.16},{"gene":"TraesCS1A02G215800","temp":-10,"value":5.78},{"gene":"TraesCS1A02G215800","temp":-15,"value":5.24},{"gene":"TraesCS1A02G215800","temp":-20,"value":5.33},{"gene":"TraesCS1A02G215800","temp":-25,"value":5.93},
{"gene":"TraesCS1B02G229300","temp":5,"value":11.13},{"gene":"TraesCS1B02G229300","temp":0,"value":12.57},{"gene":"TraesCS1B02G229300","temp":-5,"value":12.43},{"gene":"TraesCS1B02G229300","temp":-10,"value":7.11},{"gene":"TraesCS1B02G229300","temp":-15,"value":8.55},{"gene":"TraesCS1B02G229300","temp":-20,"value":7.23},{"gene":"TraesCS1B02G229300","temp":-25,"value":7.41},
{"gene":"TraesCS5A02G269000","temp":5,"value":10.19},{"gene":"TraesCS5A02G269000","temp":0,"value":14.34},{"gene":"TraesCS5A02G269000","temp":-5,"value":13.18},{"gene":"TraesCS5A02G269000","temp":-10,"value":8.59},{"gene":"TraesCS5A02G269000","temp":-15,"value":8.86},{"gene":"TraesCS5A02G269000","temp":-20,"value":10.81},{"gene":"TraesCS5A02G269000","temp":-25,"value":9.38},
{"gene":"TraesCS5D02G132500","temp":5,"value":16.13},{"gene":"TraesCS5D02G132500","temp":0,"value":15.08},{"gene":"TraesCS5D02G132500","temp":-5,"value":25.49},{"gene":"TraesCS5D02G132500","temp":-10,"value":24.78},{"gene":"TraesCS5D02G132500","temp":-15,"value":25.03},{"gene":"TraesCS5D02G132500","temp":-20,"value":18.63},{"gene":"TraesCS5D02G132500","temp":-25,"value":22.88},
{"gene":"TraesCS5A02G124700","temp":5,"value":21.86},{"gene":"TraesCS5A02G124700","temp":0,"value":23.63},{"gene":"TraesCS5A02G124700","temp":-5,"value":35.64},{"gene":"TraesCS5A02G124700","temp":-10,"value":34.17},{"gene":"TraesCS5A02G124700","temp":-15,"value":34.92},{"gene":"TraesCS5A02G124700","temp":-20,"value":31.16},{"gene":"TraesCS5A02G124700","temp":-25,"value":32.91},
{"gene":"TraesCS5B02G124300","temp":5,"value":27.69},{"gene":"TraesCS5B02G124300","temp":0,"value":27.36},{"gene":"TraesCS5B02G124300","temp":-5,"value":42.13},{"gene":"TraesCS5B02G124300","temp":-10,"value":42.21},{"gene":"TraesCS5B02G124300","temp":-15,"value":41.78},{"gene":"TraesCS5B02G124300","temp":-20,"value":34.24},{"gene":"TraesCS5B02G124300","temp":-25,"value":45.93}],
"cbl":[{"gene":"TraesCS5B02G146500","temp":5,"value":16.25},{"gene":"TraesCS5B02G146500","temp":0,"value":23.26},{"gene":"TraesCS5B02G146500","temp":-5,"value":17.23},{"gene":"TraesCS5B02G146500","temp":-10,"value":6.88},{"gene":"TraesCS5B02G146500","temp":-15,"value":12.89},{"gene":"TraesCS5B02G146500","temp":-20,"value":9.63},{"gene":"TraesCS5B02G146500","temp":-25,"value":10.57},
{"gene":"TraesCS7B02G275800","temp":5,"value":17.42},{"gene":"TraesCS7B02G275800","temp":0,"value":7.45},{"gene":"TraesCS7B02G275800","temp":-5,"value":20.02},{"gene":"TraesCS7B02G275800","temp":-10,"value":4.78},{"gene":"TraesCS7B02G275800","temp":-15,"value":9.0},{"gene":"TraesCS7B02G275800","temp":-20,"value":8.85},{"gene":"TraesCS7B02G275800","temp":-25,"value":11.97},
{"gene":"TraesCS2A02G251800","temp":5,"value":34.71},{"gene":"TraesCS2A02G251800","temp":0,"value":22.11},{"gene":"TraesCS2A02G251800","temp":-5,"value":16.46},{"gene":"TraesCS2A02G251800","temp":-10,"value":13.07},{"gene":"TraesCS2A02G251800","temp":-15,"value":14.33},{"gene":"TraesCS2A02G251800","temp":-20,"value":21.09},{"gene":"TraesCS2A02G251800","temp":-25,"value":13.22},
{"gene":"TraesCS2D02G252600","temp":5,"value":31.56},{"gene":"TraesCS2D02G252600","temp":0,"value":15.43},{"gene":"TraesCS2D02G252600","temp":-5,"value":7.44},{"gene":"TraesCS2D02G252600","temp":-10,"value":5.89},{"gene":"TraesCS2D02G252600","temp":-15,"value":6.97},{"gene":"TraesCS2D02G252600","temp":-20,"value":10.68},{"gene":"TraesCS2D02G252600","temp":-25,"value":9.15},
{"gene":"TraesCS2B02G175800","temp":5,"value":27.0},{"gene":"TraesCS2B02G175800","temp":0,"value":18.81},{"gene":"TraesCS2B02G175800","temp":-5,"value":8.53},{"gene":"TraesCS2B02G175800","temp":-10,"value":5.01},{"gene":"TraesCS2B02G175800","temp":-15,"value":10.91},{"gene":"TraesCS2B02G175800","temp":-20,"value":10.9},{"gene":"TraesCS2B02G175800","temp":-25,"value":7.39},
{"gene":"TraesCS2B02G271700","temp":5,"value":24.23},{"gene":"TraesCS2B02G271700","temp":0,"value":16.09},{"gene":"TraesCS2B02G271700","temp":-5,"value":10.16},{"gene":"TraesCS2B02G271700","temp":-10,"value":6.19},{"gene":"TraesCS2B02G271700","temp":-15,"value":7.22},{"gene":"TraesCS2B02G271700","temp":-20,"value":11.45},{"gene":"TraesCS2B02G271700","temp":-25,"value":7.67},
{"gene":"TraesCS4B02G120400","temp":5,"value":1.09},{"gene":"TraesCS4B02G120400","temp":0,"value":4.07},{"gene":"TraesCS4B02G120400","temp":-5,"value":3.91},{"gene":"TraesCS4B02G120400","temp":-10,"value":26.04},{"gene":"TraesCS4B02G120400","temp":-15,"value":9.15},{"gene":"TraesCS4B02G120400","temp":-20,"value":14.5},{"gene":"TraesCS4B02G120400","temp":-25,"value":7.67},
{"gene":"TraesCS4A02G194800","temp":5,"value":1.9},{"gene":"TraesCS4A02G194800","temp":0,"value":3.96},{"gene":"TraesCS4A02G194800","temp":-5,"value":4.9},{"gene":"TraesCS4A02G194800","temp":-10,"value":23.5},{"gene":"TraesCS4A02G194800","temp":-15,"value":5.71},{"gene":"TraesCS4A02G194800","temp":-20,"value":7.54},{"gene":"TraesCS4A02G194800","temp":-25,"value":5.66},
{"gene":"TraesCS4D02G118500","temp":5,"value":1.43},{"gene":"TraesCS4D02G118500","temp":0,"value":6.27},{"gene":"TraesCS4D02G118500","temp":-5,"value":3.63},{"gene":"TraesCS4D02G118500","temp":-10,"value":26.13},{"gene":"TraesCS4D02G118500","temp":-15,"value":5.85},{"gene":"TraesCS4D02G118500","temp":-20,"value":7.71},{"gene":"TraesCS4D02G118500","temp":-25,"value":4.89},
{"gene":"TraesCS4A02G136500","temp":5,"value":0.86},{"gene":"TraesCS4A02G136500","temp":0,"value":3.78},{"gene":"TraesCS4A02G136500","temp":-5,"value":2.37},{"gene":"TraesCS4A02G136500","temp":-10,"value":11.4},{"gene":"TraesCS4A02G136500","temp":-15,"value":5.75},{"gene":"TraesCS4A02G136500","temp":-20,"value":8.84},{"gene":"TraesCS4A02G136500","temp":-25,"value":7.76},
{"gene":"TraesCS5D02G232500","temp":5,"value":0.51},{"gene":"TraesCS5D02G232500","temp":0,"value":3.65},{"gene":"TraesCS5D02G232500","temp":-5,"value":0.84},{"gene":"TraesCS5D02G232500","temp":-10,"value":9.5},{"gene":"TraesCS5D02G232500","temp":-15,"value":6.57},{"gene":"TraesCS5D02G232500","temp":-20,"value":8.47},{"gene":"TraesCS5D02G232500","temp":-25,"value":5.72},
{"gene":"TraesCS6D02G216500","temp":5,"value":2.54},{"gene":"TraesCS6D02G216500","temp":0,"value":2.11},{"gene":"TraesCS6D02G216500","temp":-5,"value":3.11},{"gene":"TraesCS6D02G216500","temp":-10,"value":6.18},{"gene":"TraesCS6D02G216500","temp":-15,"value":7.07},{"gene":"TraesCS6D02G216500","temp":-20,"value":9.02},{"gene":"TraesCS6D02G216500","temp":-25,"value":7.88},
{"gene":"TraesCS2A02G446800","temp":5,"value":3.5},{"gene":"TraesCS2A02G446800","temp":0,"value":4.2},{"gene":"TraesCS2A02G446800","temp":-5,"value":3.35},{"gene":"TraesCS2A02G446800","temp":-10,"value":5.0},{"gene":"TraesCS2A02G446800","temp":-15,"value":4.8},{"gene":"TraesCS2A02G446800","temp":-20,"value":6.59},{"gene":"TraesCS2A02G446800","temp":-25,"value":5.66},
{"gene":"TraesCS5D02G435400","temp":5,"value":3.74},{"gene":"TraesCS5D02G435400","temp":0,"value":4.0},{"gene":"TraesCS5D02G435400","temp":-5,"value":4.36},{"gene":"TraesCS5D02G435400","temp":-10,"value":8.26},{"gene":"TraesCS5D02G435400","temp":-15,"value":6.65},{"gene":"TraesCS5D02G435400","temp":-20,"value":6.23},{"gene":"TraesCS5D02G435400","temp":-25,"value":7.2},
{"gene":"TraesCS6D02G170700","temp":5,"value":2.21},{"gene":"TraesCS6D02G170700","temp":0,"value":3.74},{"gene":"TraesCS6D02G170700","temp":-5,"value":6.94},{"gene":"TraesCS6D02G170700","temp":-10,"value":12.06},{"gene":"TraesCS6D02G170700","temp":-15,"value":14.15},{"gene":"TraesCS6D02G170700","temp":-20,"value":10.29},{"gene":"TraesCS6D02G170700","temp":-25,"value":10.45},
{"gene":"TraesCS5A02G225200","temp":5,"value":5.0},{"gene":"TraesCS5A02G225200","temp":0,"value":6.56},{"gene":"TraesCS5A02G225200","temp":-5,"value":3.88},{"gene":"TraesCS5A02G225200","temp":-10,"value":5.04},{"gene":"TraesCS5A02G225200","temp":-15,"value":10.59},{"gene":"TraesCS5A02G225200","temp":-20,"value":13.15},{"gene":"TraesCS5A02G225200","temp":-25,"value":11.54},
{"gene":"TraesCS5B02G059300","temp":5,"value":1.07},{"gene":"TraesCS5B02G059300","temp":0,"value":1.61},{"gene":"TraesCS5B02G059300","temp":-5,"value":4.73},{"gene":"TraesCS5B02G059300","temp":-10,"value":1.05},{"gene":"TraesCS5B02G059300","temp":-15,"value":4.66},{"gene":"TraesCS5B02G059300","temp":-20,"value":4.76},{"gene":"TraesCS5B02G059300","temp":-25,"value":4.77},
{"gene":"TraesCS5A02G492800","temp":5,"value":1.0},{"gene":"TraesCS5A02G492800","temp":0,"value":0.17},{"gene":"TraesCS5A02G492800","temp":-5,"value":0.43},{"gene":"TraesCS5A02G492800","temp":-10,"value":1.69},{"gene":"TraesCS5A02G492800","temp":-15,"value":3.66},{"gene":"TraesCS5A02G492800","temp":-20,"value":5.87},{"gene":"TraesCS5A02G492800","temp":-25,"value":5.28},
{"gene":"TraesCS3B02G225800","temp":5,"value":2.5},{"gene":"TraesCS3B02G225800","temp":0,"value":7.93},{"gene":"TraesCS3B02G225800","temp":-5,"value":3.6},{"gene":"TraesCS3B02G225800","temp":-10,"value":3.24},{"gene":"TraesCS3B02G225800","temp":-15,"value":4.99},{"gene":"TraesCS3B02G225800","temp":-20,"value":4.31},{"gene":"TraesCS3B02G225800","temp":-25,"value":4.5},
{"gene":"TraesCS5D02G232600","temp":5,"value":3.2},{"gene":"TraesCS5D02G232600","temp":0,"value":7.26},{"gene":"TraesCS5D02G232600","temp":-5,"value":3.31},{"gene":"TraesCS5D02G232600","temp":-10,"value":4.05},{"gene":"TraesCS5D02G232600","temp":-15,"value":6.2},{"gene":"TraesCS5D02G232600","temp":-20,"value":7.02},{"gene":"TraesCS5D02G232600","temp":-25,"value":7.44},
{"gene":"TraesCS6B02G064400","temp":5,"value":0.8},{"gene":"TraesCS6B02G064400","temp":0,"value":7.38},{"gene":"TraesCS6B02G064400","temp":-5,"value":3.18},{"gene":"TraesCS6B02G064400","temp":-10,"value":3.76},{"gene":"TraesCS6B02G064400","temp":-15,"value":0.67},{"gene":"TraesCS6B02G064400","temp":-20,"value":4.11},{"gene":"TraesCS6B02G064400","temp":-25,"value":0.69},
{"gene":"TraesCS5B02G223900","temp":5,"value":1.37},{"gene":"TraesCS5B02G223900","temp":0,"value":6.34},{"gene":"TraesCS5B02G223900","temp":-5,"value":3.03},{"gene":"TraesCS5B02G223900","temp":-10,"value":1.88},{"gene":"TraesCS5B02G223900","temp":-15,"value":2.67},{"gene":"TraesCS5B02G223900","temp":-20,"value":1.92},{"gene":"TraesCS5B02G223900","temp":-25,"value":2.41},
{"gene":"TraesCS3A02G346100","temp":5,"value":1.9},{"gene":"TraesCS3A02G346100","temp":0,"value":3.09},{"gene":"TraesCS3A02G346100","temp":-5,"value":2.94},{"gene":"TraesCS3A02G346100","temp":-10,"value":2.96},{"gene":"TraesCS3A02G346100","temp":-15,"value":2.99},{"gene":"TraesCS3A02G346100","temp":-20,"value":2.18},{"gene":"TraesCS3A02G346100","temp":-25,"value":2.03},
{"gene":"TraesCS3B02G377800","temp":5,"value":1.92},{"gene":"TraesCS3B02G377800","temp":0,"value":2.17},{"gene":"TraesCS3B02G377800","temp":-5,"value":3.74},{"gene":"TraesCS3B02G377800","temp":-10,"value":3.72},{"gene":"TraesCS3B02G377800","temp":-15,"value":2.6},{"gene":"TraesCS3B02G377800","temp":-20,"value":2.27},{"gene":"TraesCS3B02G377800","temp":-25,"value":2.56},
{"gene":"TraesCS3D02G339800","temp":5,"value":1.55},{"gene":"TraesCS3D02G339800","temp":0,"value":3.27},{"gene":"TraesCS3D02G339800","temp":-5,"value":3.75},{"gene":"TraesCS3D02G339800","temp":-10,"value":3.01},{"gene":"TraesCS3D02G339800","temp":-15,"value":3.41},{"gene":"TraesCS3D02G339800","temp":-20,"value":3.88},{"gene":"TraesCS3D02G339800","temp":-25,"value":3.69},
{"gene":"TraesCS1B02G309400","temp":5,"value":0.35},{"gene":"TraesCS1B02G309400","temp":0,"value":0.42},{"gene":"TraesCS1B02G309400","temp":-5,"value":1.1},{"gene":"TraesCS1B02G309400","temp":-10,"value":0.44},{"gene":"TraesCS1B02G309400","temp":-15,"value":0.4},{"gene":"TraesCS1B02G309400","temp":-20,"value":0.19},{"gene":"TraesCS1B02G309400","temp":-25,"value":0.58},
{"gene":"TraesCS5A02G057400","temp":5,"value":0.42},{"gene":"TraesCS5A02G057400","temp":0,"value":0.42},{"gene":"TraesCS5A02G057400","temp":-5,"value":1.35},{"gene":"TraesCS5A02G057400","temp":-10,"value":0.08},{"gene":"TraesCS5A02G057400","temp":-15,"value":1.04},{"gene":"TraesCS5A02G057400","temp":-20,"value":0.37},{"gene":"TraesCS5A02G057400","temp":-25,"value":1.16},
{"gene":"TraesCS5D02G068700","temp":5,"value":0.4},{"gene":"TraesCS5D02G068700","temp":0,"value":0.34},{"gene":"TraesCS5D02G068700","temp":-5,"value":0.93},{"gene":"TraesCS5D02G068700","temp":-10,"value":0.34},{"gene":"TraesCS5D02G068700","temp":-15,"value":1.9},{"gene":"TraesCS5D02G068700","temp":-20,"value":1.86},{"gene":"TraesCS5D02G068700","temp":-25,"value":2.25},
{"gene":"TraesCS1A02G080500","temp":5,"value":0.27},{"gene":"TraesCS1A02G080500","temp":0,"value":0.74},{"gene":"TraesCS1A02G080500","temp":-5,"value":0.66},{"gene":"TraesCS1A02G080500","temp":-10,"value":0.36},{"gene":"TraesCS1A02G080500","temp":-15,"value":0.95},{"gene":"TraesCS1A02G080500","temp":-20,"value":1.11},{"gene":"TraesCS1A02G080500","temp":-25,"value":0.88},
{"gene":"TraesCS1B02G098600","temp":5,"value":0.37},{"gene":"TraesCS1B02G098600","temp":0,"value":1.61},{"gene":"TraesCS1B02G098600","temp":-5,"value":0.22},{"gene":"TraesCS1B02G098600","temp":-10,"value":0.56},{"gene":"TraesCS1B02G098600","temp":-15,"value":1.24},{"gene":"TraesCS1B02G098600","temp":-20,"value":1.59},{"gene":"TraesCS1B02G098600","temp":-25,"value":1.16},
{"gene":"TraesCS1D02G082500","temp":5,"value":0.49},{"gene":"TraesCS1D02G082500","temp":0,"value":2.36},{"gene":"TraesCS1D02G082500","temp":-5,"value":0.89},{"gene":"TraesCS1D02G082500","temp":-10,"value":0.19},{"gene":"TraesCS1D02G082500","temp":-15,"value":0.82},{"gene":"TraesCS1D02G082500","temp":-20,"value":1.17},{"gene":"TraesCS1D02G082500","temp":-25,"value":1.06},
{"gene":"TraesCS1D02G082200","temp":5,"value":0.36},{"gene":"TraesCS1D02G082200","temp":0,"value":0.36},{"gene":"TraesCS1D02G082200","temp":-5,"value":0.33},{"gene":"TraesCS1D02G082200","temp":-10,"value":1.39},{"gene":"TraesCS1D02G082200","temp":-15,"value":1.82},{"gene":"TraesCS1D02G082200","temp":-20,"value":1.88},{"gene":"TraesCS1D02G082200","temp":-25,"value":1.43},
{"gene":"TraesCS5B02G223800","temp":5,"value":0.79},{"gene":"TraesCS5B02G223800","temp":0,"value":2.35},{"gene":"TraesCS5B02G223800","temp":-5,"value":0.74},{"gene":"TraesCS5B02G223800","temp":-10,"value":1.09},{"gene":"TraesCS5B02G223800","temp":-15,"value":1.4},{"gene":"TraesCS5B02G223800","temp":-20,"value":1.59},{"gene":"TraesCS5B02G223800","temp":-25,"value":1.54},
{"gene":"TraesCS1D02G082600","temp":5,"value":4.76},{"gene":"TraesCS1D02G082600","temp":0,"value":10.14},{"gene":"TraesCS1D02G082600","temp":-5,"value":3.6},{"gene":"TraesCS1D02G082600","temp":-10,"value":7.61},{"gene":"TraesCS1D02G082600","temp":-15,"value":10.14},{"gene":"TraesCS1D02G082600","temp":-20,"value":9.59},{"gene":"TraesCS1D02G082600","temp":-25,"value":9.44},
{"gene":"TraesCS2A02G150600","temp":5,"value":17.82},{"gene":"TraesCS2A02G150600","temp":0,"value":11.0},{"gene":"TraesCS2A02G150600","temp":-5,"value":6.95},{"gene":"TraesCS2A02G150600","temp":-10,"value":6.21},{"gene":"TraesCS2A02G150600","temp":-15,"value":5.07},{"gene":"TraesCS2A02G150600","temp":-20,"value":7.76},{"gene":"TraesCS2A02G150600","temp":-25,"value":8.26},
{"gene":"TraesCS2A02G106500","temp":5,"value":7.93},{"gene":"TraesCS2A02G106500","temp":0,"value":7.94},{"gene":"TraesCS2A02G106500","temp":-5,"value":12.31},{"gene":"TraesCS2A02G106500","temp":-10,"value":3.93},{"gene":"TraesCS2A02G106500","temp":-15,"value":3.04},{"gene":"TraesCS2A02G106500","temp":-20,"value":2.16},{"gene":"TraesCS2A02G106500","temp":-25,"value":1.97},
{"gene":"TraesCS2B02G124100","temp":5,"value":7.6},{"gene":"TraesCS2B02G124100","temp":0,"value":4.0},{"gene":"TraesCS2B02G124100","temp":-5,"value":3.67},{"gene":"TraesCS2B02G124100","temp":-10,"value":1.54},{"gene":"TraesCS2B02G124100","temp":-15,"value":0.57},{"gene":"TraesCS2B02G124100","temp":-20,"value":0.58},{"gene":"TraesCS2B02G124100","temp":-25,"value":0.32},
{"gene":"TraesCS2D02G107100","temp":5,"value":5.51},{"gene":"TraesCS2D02G107100","temp":0,"value":3.54},{"gene":"TraesCS2D02G107100","temp":-5,"value":7.55},{"gene":"TraesCS2D02G107100","temp":-10,"value":0.84},{"gene":"TraesCS2D02G107100","temp":-15,"value":1.13},{"gene":"TraesCS2D02G107100","temp":-20,"value":0.8},{"gene":"TraesCS2D02G107100","temp":-25,"value":0.72}],
"crr":[{"gene":"TraesCS4B02G315400","temp":5,"value":0.17},{"gene":"TraesCS4B02G315400","temp":0,"value":0.88},{"gene":"TraesCS4B02G315400","temp":-5,"value":1.33},{"gene":"TraesCS4B02G315400","temp":-10,"value":1.18},{"gene":"TraesCS4B02G315400","temp":-15,"value":1.57},{"gene":"TraesCS4B02G315400","temp":-20,"value":1.4},{"gene":"TraesCS4B02G315400","temp":-25,"value":2.24},
{"gene":"TraesCS4A02G414700","temp":5,"value":0.06},{"gene":"TraesCS4A02G414700","temp":0,"value":0.67},{"gene":"TraesCS4A02G414700","temp":-5,"value":0.27},{"gene":"TraesCS4A02G414700","temp":-10,"value":0.0},{"gene":"TraesCS4A02G414700","temp":-15,"value":0.02},{"gene":"TraesCS4A02G414700","temp":-20,"value":0.23},{"gene":"TraesCS4A02G414700","temp":-25,"value":0.0},
{"gene":"TraesCS4D02G312400","temp":5,"value":0.46},{"gene":"TraesCS4D02G312400","temp":0,"value":1.63},{"gene":"TraesCS4D02G312400","temp":-5,"value":1.19},{"gene":"TraesCS4D02G312400","temp":-10,"value":0.48},{"gene":"TraesCS4D02G312400","temp":-15,"value":0.65},{"gene":"TraesCS4D02G312400","temp":-20,"value":0.75},{"gene":"TraesCS4D02G312400","temp":-25,"value":0.63}],
"c1":[{"gene":"TraesCS2A02G498800","temp":5,"value":9.34},{"gene":"TraesCS2A02G498800","temp":0,"value":10.31},{"gene":"TraesCS2A02G498800","temp":-5,"value":10.69},{"gene":"TraesCS2A02G498800","temp":-10,"value":12.61},{"gene":"TraesCS2A02G498800","temp":-15,"value":13.06},{"gene":"TraesCS2A02G498800","temp":-20,"value":13.72},{"gene":"TraesCS2A02G498800","temp":-25,"value":13.21},
{"gene":"TraesCS2B02G289500","temp":5,"value":11.38},{"gene":"TraesCS2B02G289500","temp":0,"value":9.48},{"gene":"TraesCS2B02G289500","temp":-5,"value":0.73},{"gene":"TraesCS2B02G289500","temp":-10,"value":0.46},{"gene":"TraesCS2B02G289500","temp":-15,"value":0.34},{"gene":"TraesCS2B02G289500","temp":-20,"value":0.12},{"gene":"TraesCS2B02G289500","temp":-25,"value":0.18},
{"gene":"TraesCS3D02G256500","temp":5,"value":14.85},{"gene":"TraesCS3D02G256500","temp":0,"value":3.53},{"gene":"TraesCS3D02G256500","temp":-5,"value":2.43},{"gene":"TraesCS3D02G256500","temp":-10,"value":0.04},{"gene":"TraesCS3D02G256500","temp":-15,"value":0.33},{"gene":"TraesCS3D02G256500","temp":-20,"value":0.39},{"gene":"TraesCS3D02G256500","temp":-25,"value":0.32},
{"gene":"TraesCS3A02G256200","temp":5,"value":12.37},{"gene":"TraesCS3A02G256200","temp":0,"value":3.09},{"gene":"TraesCS3A02G256200","temp":-5,"value":3.53},{"gene":"TraesCS3A02G256200","temp":-10,"value":0.81},{"gene":"TraesCS3A02G256200","temp":-15,"value":0.39},{"gene":"TraesCS3A02G256200","temp":-20,"value":0.75},{"gene":"TraesCS3A02G256200","temp":-25,"value":0.34},
{"gene":"TraesCS3D02G256400","temp":5,"value":11.39},{"gene":"TraesCS3D02G256400","temp":0,"value":1.97},{"gene":"TraesCS3D02G256400","temp":-5,"value":1.1},{"gene":"TraesCS3D02G256400","temp":-10,"value":0.0},{"gene":"TraesCS3D02G256400","temp":-15,"value":0.02},{"gene":"TraesCS3D02G256400","temp":-20,"value":0.06},{"gene":"TraesCS3D02G256400","temp":-25,"value":0.12},
{"gene":"TraesCS3A02G256300","temp":5,"value":20.0},{"gene":"TraesCS3A02G256300","temp":0,"value":6.76},{"gene":"TraesCS3A02G256300","temp":-5,"value":1.69},{"gene":"TraesCS3A02G256300","temp":-10,"value":0.24},{"gene":"TraesCS3A02G256300","temp":-15,"value":0.27},{"gene":"TraesCS3A02G256300","temp":-20,"value":0.35},{"gene":"TraesCS3A02G256300","temp":-25,"value":0.37},
{"gene":"TraesCS3B02G255600","temp":5,"value":17.32},{"gene":"TraesCS3B02G255600","temp":0,"value":3.19},{"gene":"TraesCS3B02G255600","temp":-5,"value":3.41},{"gene":"TraesCS3B02G255600","temp":-10,"value":0.0},{"gene":"TraesCS3B02G255600","temp":-15,"value":0.09},{"gene":"TraesCS3B02G255600","temp":-20,"value":0.37},{"gene":"TraesCS3B02G255600","temp":-25,"value":0.46},
{"gene":"TraesCS2B02G288100","temp":5,"value":16.5},{"gene":"TraesCS2B02G288100","temp":0,"value":3.38},{"gene":"TraesCS2B02G288100","temp":-5,"value":4.61},{"gene":"TraesCS2B02G288100","temp":-10,"value":0.02},{"gene":"TraesCS2B02G288100","temp":-15,"value":0.41},{"gene":"TraesCS2B02G288100","temp":-20,"value":0.19},{"gene":"TraesCS2B02G288100","temp":-25,"value":0.46},
{"gene":"TraesCS5D02G206500","temp":5,"value":7.92},{"gene":"TraesCS5D02G206500","temp":0,"value":9.86},{"gene":"TraesCS5D02G206500","temp":-5,"value":8.62},{"gene":"TraesCS5D02G206500","temp":-10,"value":3.94},{"gene":"TraesCS5D02G206500","temp":-15,"value":3.22},{"gene":"TraesCS5D02G206500","temp":-20,"value":4.37},{"gene":"TraesCS5D02G206500","temp":-25,"value":2.91},
{"gene":"TraesCS5A02G200800","temp":5,"value":6.97},{"gene":"TraesCS5A02G200800","temp":0,"value":7.87},{"gene":"TraesCS5A02G200800","temp":-5,"value":6.93},{"gene":"TraesCS5A02G200800","temp":-10,"value":2.39},{"gene":"TraesCS5A02G200800","temp":-15,"value":3.73},{"gene":"TraesCS5A02G200800","temp":-20,"value":4.19},{"gene":"TraesCS5A02G200800","temp":-25,"value":3.11},
{"gene":"TraesCS5B02G199400","temp":5,"value":5.67},{"gene":"TraesCS5B02G199400","temp":0,"value":8.93},{"gene":"TraesCS5B02G199400","temp":-5,"value":6.67},{"gene":"TraesCS5B02G199400","temp":-10,"value":2.65},{"gene":"TraesCS5B02G199400","temp":-15,"value":2.2},{"gene":"TraesCS5B02G199400","temp":-20,"value":4.55},{"gene":"TraesCS5B02G199400","temp":-25,"value":2.8},
{"gene":"TraesCS1B02G384700","temp":5,"value":3.82},{"gene":"TraesCS1B02G384700","temp":0,"value":2.32},{"gene":"TraesCS1B02G384700","temp":-5,"value":0.87},{"gene":"TraesCS1B02G384700","temp":-10,"value":0.0},{"gene":"TraesCS1B02G384700","temp":-15,"value":0.03},{"gene":"TraesCS1B02G384700","temp":-20,"value":0.0},{"gene":"TraesCS1B02G384700","temp":-25,"value":0.07},
{"gene":"TraesCS3A02G255700","temp":5,"value":3.99},{"gene":"TraesCS3A02G255700","temp":0,"value":0.37},{"gene":"TraesCS3A02G255700","temp":-5,"value":0.32},{"gene":"TraesCS3A02G255700","temp":-10,"value":0.02},{"gene":"TraesCS3A02G255700","temp":-15,"value":0.06},{"gene":"TraesCS3A02G255700","temp":-20,"value":0.15},{"gene":"TraesCS3A02G255700","temp":-25,"value":0.55},
{"gene":"TraesCS1B02G385000","temp":5,"value":0.54},{"gene":"TraesCS1B02G385000","temp":0,"value":0.37},{"gene":"TraesCS1B02G385000","temp":-5,"value":0.32},{"gene":"TraesCS1B02G385000","temp":-10,"value":0.43},{"gene":"TraesCS1B02G385000","temp":-15,"value":1.5},{"gene":"TraesCS1B02G385000","temp":-20,"value":1.55},{"gene":"TraesCS1B02G385000","temp":-25,"value":1.67},
{"gene":"TraesCS1A02G367000","temp":5,"value":2.22},{"gene":"TraesCS1A02G367000","temp":0,"value":3.1},{"gene":"TraesCS1A02G367000","temp":-5,"value":1.01},{"gene":"TraesCS1A02G367000","temp":-10,"value":0.36},{"gene":"TraesCS1A02G367000","temp":-15,"value":0.71},{"gene":"TraesCS1A02G367000","temp":-20,"value":0.89},{"gene":"TraesCS1A02G367000","temp":-25,"value":0.27},
{"gene":"TraesCS1D02G372500","temp":5,"value":1.92},{"gene":"TraesCS1D02G372500","temp":0,"value":1.28},{"gene":"TraesCS1D02G372500","temp":-5,"value":0.89},{"gene":"TraesCS1D02G372500","temp":-10,"value":0.65},{"gene":"TraesCS1D02G372500","temp":-15,"value":0.55},{"gene":"TraesCS1D02G372500","temp":-20,"value":0.44},{"gene":"TraesCS1D02G372500","temp":-25,"value":0.57},
{"gene":"TraesCS1D02G373600","temp":5,"value":1.8},{"gene":"TraesCS1D02G373600","temp":0,"value":1.16},{"gene":"TraesCS1D02G373600","temp":-5,"value":0.99},{"gene":"TraesCS1D02G373600","temp":-10,"value":0.35},{"gene":"TraesCS1D02G373600","temp":-15,"value":0.46},{"gene":"TraesCS1D02G373600","temp":-20,"value":0.34},{"gene":"TraesCS1D02G373600","temp":-25,"value":0.31},
{"gene":"TraesCS1B02G395100","temp":5,"value":0.97},{"gene":"TraesCS1B02G395100","temp":0,"value":0.6},{"gene":"TraesCS1B02G395100","temp":-5,"value":0.65},{"gene":"TraesCS1B02G395100","temp":-10,"value":0.11},{"gene":"TraesCS1B02G395100","temp":-15,"value":0.43},{"gene":"TraesCS1B02G395100","temp":-20,"value":0.09},{"gene":"TraesCS1B02G395100","temp":-25,"value":0.13},
{"gene":"TraesCS7B02G247800","temp":5,"value":0.91},{"gene":"TraesCS7B02G247800","temp":0,"value":0.64},{"gene":"TraesCS7B02G247800","temp":-5,"value":0.27},{"gene":"TraesCS7B02G247800","temp":-10,"value":0.0},{"gene":"TraesCS7B02G247800","temp":-15,"value":0.0},{"gene":"TraesCS7B02G247800","temp":-20,"value":0.07},{"gene":"TraesCS7B02G247800","temp":-25,"value":0.09},
{"gene":"TraesCS1D02G372400","temp":5,"value":1.18},{"gene":"TraesCS1D02G372400","temp":0,"value":0.32},{"gene":"TraesCS1D02G372400","temp":-5,"value":0.89},{"gene":"TraesCS1D02G372400","temp":-10,"value":0.01},{"gene":"TraesCS1D02G372400","temp":-15,"value":0.04},{"gene":"TraesCS1D02G372400","temp":-20,"value":0.15},{"gene":"TraesCS1D02G372400","temp":-25,"value":0.28},
{"gene":"TraesCS7A02G336200","temp":5,"value":1.58},{"gene":"TraesCS7A02G336200","temp":0,"value":0.78},{"gene":"TraesCS7A02G336200","temp":-5,"value":0.59},{"gene":"TraesCS7A02G336200","temp":-10,"value":0.0},{"gene":"TraesCS7A02G336200","temp":-15,"value":0.06},{"gene":"TraesCS7A02G336200","temp":-20,"value":0.0},{"gene":"TraesCS7A02G336200","temp":-25,"value":0.0},
{"gene":"TraesCS1D02G372700","temp":5,"value":2.84},{"gene":"TraesCS1D02G372700","temp":0,"value":2.46},{"gene":"TraesCS1D02G372700","temp":-5,"value":2.61},{"gene":"TraesCS1D02G372700","temp":-10,"value":0.93},{"gene":"TraesCS1D02G372700","temp":-15,"value":1.91},{"gene":"TraesCS1D02G372700","temp":-20,"value":1.66},{"gene":"TraesCS1D02G372700","temp":-25,"value":1.6},
{"gene":"TraesCS4A02G272600","temp":5,"value":2.16},{"gene":"TraesCS4A02G272600","temp":0,"value":0.87},{"gene":"TraesCS4A02G272600","temp":-5,"value":1.91},{"gene":"TraesCS4A02G272600","temp":-10,"value":3.11},{"gene":"TraesCS4A02G272600","temp":-15,"value":3.1},{"gene":"TraesCS4A02G272600","temp":-20,"value":3.05},{"gene":"TraesCS4A02G272600","temp":-25,"value":3.15},
{"gene":"TraesCS4B02G041500","temp":5,"value":1.96},{"gene":"TraesCS4B02G041500","temp":0,"value":0.75},{"gene":"TraesCS4B02G041500","temp":-5,"value":2.81},{"gene":"TraesCS4B02G041500","temp":-10,"value":6.27},{"gene":"TraesCS4B02G041500","temp":-15,"value":3.72},{"gene":"TraesCS4B02G041500","temp":-20,"value":3.13},{"gene":"TraesCS4B02G041500","temp":-25,"value":7.18},
{"gene":"TraesCS4D02G038800","temp":5,"value":7.64},{"gene":"TraesCS4D02G038800","temp":0,"value":1.33},{"gene":"TraesCS4D02G038800","temp":-5,"value":5.97},{"gene":"TraesCS4D02G038800","temp":-10,"value":4.35},{"gene":"TraesCS4D02G038800","temp":-15,"value":4.99},{"gene":"TraesCS4D02G038800","temp":-20,"value":3.12},{"gene":"TraesCS4D02G038800","temp":-25,"value":4.78}],
"c2":[{"gene":"TraesCS5A02G122700","temp":5,"value":1.77},{"gene":"TraesCS5A02G122700","temp":0,"value":2.38},{"gene":"TraesCS5A02G122700","temp":-5,"value":4.05},{"gene":"TraesCS5A02G122700","temp":-10,"value":3.12},{"gene":"TraesCS5A02G122700","temp":-15,"value":3.13},{"gene":"TraesCS5A02G122700","temp":-20,"value":2.45},{"gene":"TraesCS5A02G122700","temp":-25,"value":3.17},
{"gene":"TraesCS5B02G122600","temp":5,"value":1.14},{"gene":"TraesCS5B02G122600","temp":0,"value":1.13},{"gene":"TraesCS5B02G122600","temp":-5,"value":2.14},{"gene":"TraesCS5B02G122600","temp":-10,"value":2.81},{"gene":"TraesCS5B02G122600","temp":-15,"value":2.74},{"gene":"TraesCS5B02G122600","temp":-20,"value":1.9},{"gene":"TraesCS5B02G122600","temp":-25,"value":2.77},
{"gene":"TraesCS7D02G092900","temp":5,"value":4.04},{"gene":"TraesCS7D02G092900","temp":0,"value":3.99},{"gene":"TraesCS7D02G092900","temp":-5,"value":2.56},{"gene":"TraesCS7D02G092900","temp":-10,"value":2.06},{"gene":"TraesCS7D02G092900","temp":-15,"value":2.55},{"gene":"TraesCS7D02G092900","temp":-20,"value":2.81},{"gene":"TraesCS7D02G092900","temp":-25,"value":2.31},
{"gene":"TraesCS7D02G155100","temp":5,"value":2.93},{"gene":"TraesCS7D02G155100","temp":0,"value":2.49},{"gene":"TraesCS7D02G155100","temp":-5,"value":3.67},{"gene":"TraesCS7D02G155100","temp":-10,"value":1.63},{"gene":"TraesCS7D02G155100","temp":-15,"value":1.31},{"gene":"TraesCS7D02G155100","temp":-20,"value":1.63},{"gene":"TraesCS7D02G155100","temp":-25,"value":1.71},
{"gene":"TraesCS6B02G379500","temp":5,"value":4.27},{"gene":"TraesCS6B02G379500","temp":0,"value":2.92},{"gene":"TraesCS6B02G379500","temp":-5,"value":2.24},{"gene":"TraesCS6B02G379500","temp":-10,"value":10.86},{"gene":"TraesCS6B02G379500","temp":-15,"value":6.82},{"gene":"TraesCS6B02G379500","temp":-20,"value":5.86},{"gene":"TraesCS6B02G379500","temp":-25,"value":8.36},
{"gene":"TraesCS5B02G565100","temp":5,"value":3.19},{"gene":"TraesCS5B02G565100","temp":0,"value":4.25},{"gene":"TraesCS5B02G565100","temp":-5,"value":5.12},{"gene":"TraesCS5B02G565100","temp":-10,"value":6.42},{"gene":"TraesCS5B02G565100","temp":-15,"value":5.3},{"gene":"TraesCS5B02G565100","temp":-20,"value":5.47},{"gene":"TraesCS5B02G565100","temp":-25,"value":6.78},
{"gene":"TraesCS5D02G130900","temp":5,"value":4.01},{"gene":"TraesCS5D02G130900","temp":0,"value":3.43},{"gene":"TraesCS5D02G130900","temp":-5,"value":6.28},{"gene":"TraesCS5D02G130900","temp":-10,"value":7.54},{"gene":"TraesCS5D02G130900","temp":-15,"value":7.59},{"gene":"TraesCS5D02G130900","temp":-20,"value":5.63},{"gene":"TraesCS5D02G130900","temp":-25,"value":6.47},
{"gene":"TraesCS5D02G549600","temp":5,"value":2.69},{"gene":"TraesCS5D02G549600","temp":0,"value":5.77},{"gene":"TraesCS5D02G549600","temp":-5,"value":5.69},{"gene":"TraesCS5D02G549600","temp":-10,"value":7.91},{"gene":"TraesCS5D02G549600","temp":-15,"value":7.18},{"gene":"TraesCS5D02G549600","temp":-20,"value":5.65},{"gene":"TraesCS5D02G549600","temp":-25,"value":6.46}],
"mk":[{"gene":"TraesCS1A02G006500","temp":5,"value":19.89},{"gene":"TraesCS1A02G006500","temp":0,"value":21.36},{"gene":"TraesCS1A02G006500","temp":-5,"value":20.66},{"gene":"TraesCS1A02G006500","temp":-10,"value":31.31},{"gene":"TraesCS1A02G006500","temp":-15,"value":31.66},{"gene":"TraesCS1A02G006500","temp":-20,"value":31.61},{"gene":"TraesCS1A02G006500","temp":-25,"value":31.98},
{"gene":"TraesCS3A02G242100","temp":5,"value":15.41},{"gene":"TraesCS3A02G242100","temp":0,"value":18.04},{"gene":"TraesCS3A02G242100","temp":-5,"value":19.64},{"gene":"TraesCS3A02G242100","temp":-10,"value":31.49},{"gene":"TraesCS3A02G242100","temp":-15,"value":39.72},{"gene":"TraesCS3A02G242100","temp":-20,"value":25.5},{"gene":"TraesCS3A02G242100","temp":-25,"value":35.13},
{"gene":"TraesCS3A02G228000","temp":5,"value":8.35},{"gene":"TraesCS3A02G228000","temp":0,"value":14.6},{"gene":"TraesCS3A02G228000","temp":-5,"value":15.16},{"gene":"TraesCS3A02G228000","temp":-10,"value":15.07},{"gene":"TraesCS3A02G228000","temp":-15,"value":15.65},{"gene":"TraesCS3A02G228000","temp":-20,"value":20.15},{"gene":"TraesCS3A02G228000","temp":-25,"value":19.01},
{"gene":"TraesCS3B02G256700","temp":5,"value":8.3},{"gene":"TraesCS3B02G256700","temp":0,"value":15.76},{"gene":"TraesCS3B02G256700","temp":-5,"value":17.33},{"gene":"TraesCS3B02G256700","temp":-10,"value":20.66},{"gene":"TraesCS3B02G256700","temp":-15,"value":25.68},{"gene":"TraesCS3B02G256700","temp":-20,"value":21.72},{"gene":"TraesCS3B02G256700","temp":-25,"value":20.81},
{"gene":"TraesCS3D02G242200","temp":5,"value":8.72},{"gene":"TraesCS3D02G242200","temp":0,"value":7.94},{"gene":"TraesCS3D02G242200","temp":-5,"value":13.14},{"gene":"TraesCS3D02G242200","temp":-10,"value":18.82},{"gene":"TraesCS3D02G242200","temp":-15,"value":22.79},{"gene":"TraesCS3D02G242200","temp":-20,"value":16.77},{"gene":"TraesCS3D02G242200","temp":-25,"value":22.21},
{"gene":"TraesCS1B02G104900","temp":5,"value":11.33},{"gene":"TraesCS1B02G104900","temp":0,"value":17.53},{"gene":"TraesCS1B02G104900","temp":-5,"value":14.09},{"gene":"TraesCS1B02G104900","temp":-10,"value":19.09},{"gene":"TraesCS1B02G104900","temp":-15,"value":15.01},{"gene":"TraesCS1B02G104900","temp":-20,"value":23.4},{"gene":"TraesCS1B02G104900","temp":-25,"value":23.99},
{"gene":"TraesCS1D02G208000","temp":5,"value":11.47},{"gene":"TraesCS1D02G208000","temp":0,"value":15.41},{"gene":"TraesCS1D02G208000","temp":-5,"value":14.36},{"gene":"TraesCS1D02G208000","temp":-10,"value":19.66},{"gene":"TraesCS1D02G208000","temp":-15,"value":21.05},{"gene":"TraesCS1D02G208000","temp":-20,"value":21.59},{"gene":"TraesCS1D02G208000","temp":-25,"value":23.36},
{"gene":"TraesCS6A02G059600","temp":5,"value":0.56},{"gene":"TraesCS6A02G059600","temp":0,"value":1.61},{"gene":"TraesCS6A02G059600","temp":-5,"value":1.44},{"gene":"TraesCS6A02G059600","temp":-10,"value":2.14},{"gene":"TraesCS6A02G059600","temp":-15,"value":1.79},{"gene":"TraesCS6A02G059600","temp":-20,"value":2.29},{"gene":"TraesCS6A02G059600","temp":-25,"value":2.39},
{"gene":"TraesCS3A02G231700","temp":5,"value":0.0},{"gene":"TraesCS3A02G231700","temp":0,"value":0.6},{"gene":"TraesCS3A02G231700","temp":-5,"value":0.3},{"gene":"TraesCS3A02G231700","temp":-10,"value":0.14},{"gene":"TraesCS3A02G231700","temp":-15,"value":0.16},{"gene":"TraesCS3A02G231700","temp":-20,"value":0.39},{"gene":"TraesCS3A02G231700","temp":-25,"value":0.07},
{"gene":"TraesCS6D02G082900","temp":5,"value":0.11},{"gene":"TraesCS6D02G082900","temp":0,"value":0.64},{"gene":"TraesCS6D02G082900","temp":-5,"value":0.9},{"gene":"TraesCS6D02G082900","temp":-10,"value":0.63},{"gene":"TraesCS6D02G082900","temp":-15,"value":0.07},{"gene":"TraesCS6D02G082900","temp":-20,"value":0.9},{"gene":"TraesCS6D02G082900","temp":-25,"value":1.05},
{"gene":"TraesCS4A02G062600","temp":5,"value":3.0},{"gene":"TraesCS4A02G062600","temp":0,"value":1.53},{"gene":"TraesCS4A02G062600","temp":-5,"value":0.27},{"gene":"TraesCS4A02G062600","temp":-10,"value":0.16},{"gene":"TraesCS4A02G062600","temp":-15,"value":0.15},{"gene":"TraesCS4A02G062600","temp":-20,"value":0.22},{"gene":"TraesCS4A02G062600","temp":-25,"value":0.34},
{"gene":"TraesCS7B02G322800","temp":5,"value":2.99},{"gene":"TraesCS7B02G322800","temp":0,"value":0.97},{"gene":"TraesCS7B02G322800","temp":-5,"value":1.01},{"gene":"TraesCS7B02G322800","temp":-10,"value":1.59},{"gene":"TraesCS7B02G322800","temp":-15,"value":1.12},{"gene":"TraesCS7B02G322800","temp":-20,"value":0.47},{"gene":"TraesCS7B02G322800","temp":-25,"value":1.23},
{"gene":"TraesCS7B02G246900","temp":5,"value":2.61},{"gene":"TraesCS7B02G246900","temp":0,"value":4.54},{"gene":"TraesCS7B02G246900","temp":-5,"value":5.12},{"gene":"TraesCS7B02G246900","temp":-10,"value":11.17},{"gene":"TraesCS7B02G246900","temp":-15,"value":8.2},{"gene":"TraesCS7B02G246900","temp":-20,"value":8.66},{"gene":"TraesCS7B02G246900","temp":-25,"value":8.77},
{"gene":"TraesCS3D02G225600","temp":5,"value":5.61},{"gene":"TraesCS3D02G225600","temp":0,"value":9.55},{"gene":"TraesCS3D02G225600","temp":-5,"value":10.88},{"gene":"TraesCS3D02G225600","temp":-10,"value":17.43},{"gene":"TraesCS3D02G225600","temp":-15,"value":14.5},{"gene":"TraesCS3D02G225600","temp":-20,"value":11.33},{"gene":"TraesCS3D02G225600","temp":-25,"value":14.5},
{"gene":"TraesCS7A02G235300","temp":5,"value":4.59},{"gene":"TraesCS7A02G235300","temp":0,"value":7.3},{"gene":"TraesCS7A02G235300","temp":-5,"value":9.82},{"gene":"TraesCS7A02G235300","temp":-10,"value":16.19},{"gene":"TraesCS7A02G235300","temp":-15,"value":13.55},{"gene":"TraesCS7A02G235300","temp":-20,"value":13.94},{"gene":"TraesCS7A02G235300","temp":-25,"value":10.93},
{"gene":"TraesCS7D02G342800","temp":5,"value":4.62},{"gene":"TraesCS7D02G342800","temp":0,"value":8.0},{"gene":"TraesCS7D02G342800","temp":-5,"value":6.05},{"gene":"TraesCS7D02G342800","temp":-10,"value":16.09},{"gene":"TraesCS7D02G342800","temp":-15,"value":13.42},{"gene":"TraesCS7D02G342800","temp":-20,"value":12.02},{"gene":"TraesCS7D02G342800","temp":-25,"value":12.75},
{"gene":"TraesCS1B02G452200","temp":5,"value":7.54},{"gene":"TraesCS1B02G452200","temp":0,"value":7.69},{"gene":"TraesCS1B02G452200","temp":-5,"value":8.48},{"gene":"TraesCS1B02G452200","temp":-10,"value":7.67},{"gene":"TraesCS1B02G452200","temp":-15,"value":11.12},{"gene":"TraesCS1B02G452200","temp":-20,"value":9.66},{"gene":"TraesCS1B02G452200","temp":-25,"value":10.45},
{"gene":"TraesCS3B02G270200","temp":5,"value":6.52},{"gene":"TraesCS3B02G270200","temp":0,"value":5.91},{"gene":"TraesCS3B02G270200","temp":-5,"value":10.52},{"gene":"TraesCS3B02G270200","temp":-10,"value":10.18},{"gene":"TraesCS3B02G270200","temp":-15,"value":15.75},{"gene":"TraesCS3B02G270200","temp":-20,"value":9.45},{"gene":"TraesCS3B02G270200","temp":-25,"value":16.51},
{"gene":"TraesCS6B02G146300","temp":5,"value":14.44},{"gene":"TraesCS6B02G146300","temp":0,"value":6.45},{"gene":"TraesCS6B02G146300","temp":-5,"value":7.98},{"gene":"TraesCS6B02G146300","temp":-10,"value":4.04},{"gene":"TraesCS6B02G146300","temp":-15,"value":4.71},{"gene":"TraesCS6B02G146300","temp":-20,"value":4.61},{"gene":"TraesCS6B02G146300","temp":-25,"value":5.63},
{"gene":"TraesCS7B02G322900","temp":5,"value":11.95},{"gene":"TraesCS7B02G322900","temp":0,"value":8.51},{"gene":"TraesCS7B02G322900","temp":-5,"value":5.08},{"gene":"TraesCS7B02G322900","temp":-10,"value":4.59},{"gene":"TraesCS7B02G322900","temp":-15,"value":4.38},{"gene":"TraesCS7B02G322900","temp":-20,"value":4.33},{"gene":"TraesCS7B02G322900","temp":-25,"value":3.75},
{"gene":"TraesCS7D02G414700","temp":5,"value":9.4},{"gene":"TraesCS7D02G414700","temp":0,"value":9.33},{"gene":"TraesCS7D02G414700","temp":-5,"value":4.99},{"gene":"TraesCS7D02G414700","temp":-10,"value":3.69},{"gene":"TraesCS7D02G414700","temp":-15,"value":4.09},{"gene":"TraesCS7D02G414700","temp":-20,"value":4.0},{"gene":"TraesCS7D02G414700","temp":-25,"value":3.53},
{"gene":"TraesCS6A02G118100","temp":5,"value":18.73},{"gene":"TraesCS6A02G118100","temp":0,"value":14.53},{"gene":"TraesCS6A02G118100","temp":-5,"value":11.35},{"gene":"TraesCS6A02G118100","temp":-10,"value":9.67},{"gene":"TraesCS6A02G118100","temp":-15,"value":7.2},{"gene":"TraesCS6A02G118100","temp":-20,"value":9.34},{"gene":"TraesCS6A02G118100","temp":-25,"value":10.7},
{"gene":"TraesCS4A02G106400","temp":5,"value":12.19},{"gene":"TraesCS4A02G106400","temp":0,"value":12.89},{"gene":"TraesCS4A02G106400","temp":-5,"value":12.73},{"gene":"TraesCS4A02G106400","temp":-10,"value":4.84},{"gene":"TraesCS4A02G106400","temp":-15,"value":5.01},{"gene":"TraesCS4A02G106400","temp":-20,"value":7.19},{"gene":"TraesCS4A02G106400","temp":-25,"value":6.6},
{"gene":"TraesCS6D02G108100","temp":5,"value":17.08},{"gene":"TraesCS6D02G108100","temp":0,"value":15.04},{"gene":"TraesCS6D02G108100","temp":-5,"value":9.36},{"gene":"TraesCS6D02G108100","temp":-10,"value":5.89},{"gene":"TraesCS6D02G108100","temp":-15,"value":7.51},{"gene":"TraesCS6D02G108100","temp":-20,"value":7.16},{"gene":"TraesCS6D02G108100","temp":-25,"value":6.79},
{"gene":"TraesCS7A02G422500","temp":5,"value":10.66},{"gene":"TraesCS7A02G422500","temp":0,"value":15.74},{"gene":"TraesCS7A02G422500","temp":-5,"value":8.94},{"gene":"TraesCS7A02G422500","temp":-10,"value":5.68},{"gene":"TraesCS7A02G422500","temp":-15,"value":5.46},{"gene":"TraesCS7A02G422500","temp":-20,"value":5.16},{"gene":"TraesCS7A02G422500","temp":-25,"value":4.54},
{"gene":"TraesCS1D02G410100","temp":5,"value":118.58},{"gene":"TraesCS1D02G410100","temp":0,"value":44.94},{"gene":"TraesCS1D02G410100","temp":-5,"value":29.63},{"gene":"TraesCS1D02G410100","temp":-10,"value":9.26},{"gene":"TraesCS1D02G410100","temp":-15,"value":10.06},{"gene":"TraesCS1D02G410100","temp":-20,"value":9.69},{"gene":"TraesCS1D02G410100","temp":-25,"value":10.69},
{"gene":"TraesCS7B02G309900","temp":5,"value":38.3},{"gene":"TraesCS7B02G309900","temp":0,"value":67.37},{"gene":"TraesCS7B02G309900","temp":-5,"value":44.33},{"gene":"TraesCS7B02G309900","temp":-10,"value":16.98},{"gene":"TraesCS7B02G309900","temp":-15,"value":19.17},{"gene":"TraesCS7B02G309900","temp":-20,"value":19.68},{"gene":"TraesCS7B02G309900","temp":-25,"value":18.66},
{"gene":"TraesCS7A02G410700","temp":5,"value":33.51},{"gene":"TraesCS7A02G410700","temp":0,"value":56.65},{"gene":"TraesCS7A02G410700","temp":-5,"value":30.84},{"gene":"TraesCS7A02G410700","temp":-10,"value":12.1},{"gene":"TraesCS7A02G410700","temp":-15,"value":13.95},{"gene":"TraesCS7A02G410700","temp":-20,"value":14.16},{"gene":"TraesCS7A02G410700","temp":-25,"value":13.4},
{"gene":"TraesCS7D02G403700","temp":5,"value":30.09},{"gene":"TraesCS7D02G403700","temp":0,"value":48.31},{"gene":"TraesCS7D02G403700","temp":-5,"value":25.92},{"gene":"TraesCS7D02G403700","temp":-10,"value":14.25},{"gene":"TraesCS7D02G403700","temp":-15,"value":17.09},{"gene":"TraesCS7D02G403700","temp":-20,"value":16.13},{"gene":"TraesCS7D02G403700","temp":-25,"value":15.71},
{"gene":"TraesCS1B02G431400","temp":5,"value":73.05},{"gene":"TraesCS1B02G431400","temp":0,"value":28.79},{"gene":"TraesCS1B02G431400","temp":-5,"value":17.7},{"gene":"TraesCS1B02G431400","temp":-10,"value":6.7},{"gene":"TraesCS1B02G431400","temp":-15,"value":15.81},{"gene":"TraesCS1B02G431400","temp":-20,"value":13.7},{"gene":"TraesCS1B02G431400","temp":-25,"value":14.63},
{"gene":"TraesCS6B02G197800","temp":5,"value":40.51},{"gene":"TraesCS6B02G197800","temp":0,"value":21.69},{"gene":"TraesCS6B02G197800","temp":-5,"value":18.77},{"gene":"TraesCS6B02G197800","temp":-10,"value":3.76},{"gene":"TraesCS6B02G197800","temp":-15,"value":6.81},{"gene":"TraesCS6B02G197800","temp":-20,"value":8.48},{"gene":"TraesCS6B02G197800","temp":-25,"value":9.0},
{"gene":"TraesCS4D02G198600","temp":5,"value":26.34},{"gene":"TraesCS4D02G198600","temp":0,"value":26.88},{"gene":"TraesCS4D02G198600","temp":-5,"value":21.84},{"gene":"TraesCS4D02G198600","temp":-10,"value":11.13},{"gene":"TraesCS4D02G198600","temp":-15,"value":16.97},{"gene":"TraesCS4D02G198600","temp":-20,"value":20.01},{"gene":"TraesCS4D02G198600","temp":-25,"value":19.33}],
"rb":[{"gene":"TraesCS3B02G212900","temp":5,"value":4.6},{"gene":"TraesCS3B02G212900","temp":0,"value":9.95},{"gene":"TraesCS3B02G212900","temp":-5,"value":9.71},{"gene":"TraesCS3B02G212900","temp":-10,"value":7.82},{"gene":"TraesCS3B02G212900","temp":-15,"value":12.39},{"gene":"TraesCS3B02G212900","temp":-20,"value":11.8},{"gene":"TraesCS3B02G212900","temp":-25,"value":12.33},
{"gene":"TraesCS5A02G093600","temp":5,"value":0.0},{"gene":"TraesCS5A02G093600","temp":0,"value":1.6},{"gene":"TraesCS5A02G093600","temp":-5,"value":0.18},{"gene":"TraesCS5A02G093600","temp":-10,"value":0.1},{"gene":"TraesCS5A02G093600","temp":-15,"value":0.08},{"gene":"TraesCS5A02G093600","temp":-20,"value":0.07},{"gene":"TraesCS5A02G093600","temp":-25,"value":0.09},
{"gene":"TraesCS5A02G301700","temp":5,"value":2.94},{"gene":"TraesCS5A02G301700","temp":0,"value":0.6},{"gene":"TraesCS5A02G301700","temp":-5,"value":0.41},{"gene":"TraesCS5A02G301700","temp":-10,"value":0.05},{"gene":"TraesCS5A02G301700","temp":-15,"value":0.03},{"gene":"TraesCS5A02G301700","temp":-20,"value":0.07},{"gene":"TraesCS5A02G301700","temp":-25,"value":0.05},
{"gene":"TraesCS5B02G299000","temp":5,"value":10.35},{"gene":"TraesCS5B02G299000","temp":0,"value":1.87},{"gene":"TraesCS5B02G299000","temp":-5,"value":2.37},{"gene":"TraesCS5B02G299000","temp":-10,"value":0.31},{"gene":"TraesCS5B02G299000","temp":-15,"value":0.28},{"gene":"TraesCS5B02G299000","temp":-20,"value":0.39},{"gene":"TraesCS5B02G299000","temp":-25,"value":0.53},
{"gene":"TraesCS5D02G306400","temp":5,"value":6.92},{"gene":"TraesCS5D02G306400","temp":0,"value":2.08},{"gene":"TraesCS5D02G306400","temp":-5,"value":0.64},{"gene":"TraesCS5D02G306400","temp":-10,"value":0.04},{"gene":"TraesCS5D02G306400","temp":-15,"value":0.05},{"gene":"TraesCS5D02G306400","temp":-20,"value":0.08},{"gene":"TraesCS5D02G306400","temp":-25,"value":0.07},
{"gene":"TraesCS3A02G354200","temp":5,"value":1.57},{"gene":"TraesCS3A02G354200","temp":0,"value":4.25},{"gene":"TraesCS3A02G354200","temp":-5,"value":6.08},{"gene":"TraesCS3A02G354200","temp":-10,"value":5.35},{"gene":"TraesCS3A02G354200","temp":-15,"value":7.05},{"gene":"TraesCS3A02G354200","temp":-20,"value":5.65},{"gene":"TraesCS3A02G354200","temp":-25,"value":5.91},
{"gene":"TraesCS4D02G324800","temp":5,"value":8.86},{"gene":"TraesCS4D02G324800","temp":0,"value":9.23},{"gene":"TraesCS4D02G324800","temp":-5,"value":7.12},{"gene":"TraesCS4D02G324800","temp":-10,"value":2.68},{"gene":"TraesCS4D02G324800","temp":-15,"value":3.83},{"gene":"TraesCS4D02G324800","temp":-20,"value":2.72},{"gene":"TraesCS4D02G324800","temp":-25,"value":3.87},
{"gene":"TraesCS4B02G327800","temp":5,"value":6.46},{"gene":"TraesCS4B02G327800","temp":0,"value":7.94},{"gene":"TraesCS4B02G327800","temp":-5,"value":5.02},{"gene":"TraesCS4B02G327800","temp":-10,"value":1.52},{"gene":"TraesCS4B02G327800","temp":-15,"value":2.27},{"gene":"TraesCS4B02G327800","temp":-20,"value":1.71},{"gene":"TraesCS4B02G327800","temp":-25,"value":1.71},
{"gene":"TraesCS5A02G499500","temp":5,"value":6.97},{"gene":"TraesCS5A02G499500","temp":0,"value":5.84},{"gene":"TraesCS5A02G499500","temp":-5,"value":4.18},{"gene":"TraesCS5A02G499500","temp":-10,"value":2.13},{"gene":"TraesCS5A02G499500","temp":-15,"value":2.75},{"gene":"TraesCS5A02G499500","temp":-20,"value":3.38},{"gene":"TraesCS5A02G499500","temp":-25,"value":2.9}]
},
"bounds":"flush","spacing":10,"resolve":{"scale":{"color":"independent"}},"hconcat":[
{"bounds":"flush","vconcat":[{"width":1,"height":1,"data":{"values":[{"label":"A"}]},"mark":{"type":"text","align":"left","baseline":"top","font":"Liberation Sans","fontSize":14,"fontWeight":"bold","dx":1},"encoding":{"text":{"field":"label"}}}]},
{"bounds":"flush","spacing":13,"resolve":{"scale":{"color":"independent"}},"hconcat":[
{"bounds":"flush","spacing":411,"vconcat":[{"width":1,"height":1,"data":{"values":[]},"mark":"text","encoding":{}},{"width":1,"height":1,"data":{"values":[{"label":"C"}]},"mark":{"type":"text","align":"left","baseline":"top","font":"Liberation Sans","fontSize":14,"fontWeight":"bold"},"encoding":{"text":{"field":"label"}}}]},
{"bounds":"flush","spacing":3.5,"resolve":{"scale":{"color":"independent"}},"hconcat":[
{"bounds":"flush","spacing":439,"resolve":{"scale":{"color":"independent"}},"vconcat":[{"width":1,"height":1,"data":{"values":[]},"mark":"text","encoding":{}},{"bounds":"flush","spacing":37.3,"resolve":{"scale":{"color":"independent"}},"vconcat":[
{"data":{"name":"c1"},"width":99.5,"height":137,"title":{"text":"MAP kinase kinase kinases","dx":0,"offset":1},"encoding":{"x":{"field":"temp","type":"ordinal","title":null,"scale":{"domain":[5,0,-5,-10,-15,-20,-25]},"axis":{"labelExpr":"datum.value+'°C'","labelAngle":0,"labelFontSize":4,"labelPadding":4}},"y":{"field":"gene","type":"nominal","sort":null,"title":null,"axis":{"orient":"right","labelFontSize":6,"labelPadding":1.5}}},"layer":[{"mark":"rect","encoding":{"color":{"field":"value","type":"quantitative","scale":{"domain":[0,3.33,6.67,10,13.33,16.67,20],"range":["#4575b4","#91bfdb","#e0f3f8","#ffffbf","#fee090","#fc8d59","#d73027"]},"legend":{"title":null,"orient":"none","legendX":165,"legendY":1,"gradientLength":49,"values":[0,5,10,15,20]}}}},{"mark":"text","encoding":{"text":{"field":"value","type":"quantitative","format":".2f"}}}]},
{"data":{"name":"c2"},"width":99.5,"height":64,"title":{"text":"MAP kinase kinases","dx":0,"offset":1},"encoding":{"x":{"field":"temp","type":"ordinal","title":null,"scale":{"domain":[5,0,-5,-10,-15,-20,-25]},"axis":{"labelExpr":"datum.value+'°C'","labelAngle":0,"labelFontSize":4,"labelPadding":3}},"y":{"field":"gene","type":"nominal","sort":null,"title":null,"axis":{"orient":"right","labelFontSize":6,"labelPadding":1}}},"layer":[{"mark":"rect","encoding":{"color":{"field":"value","type":"quantitative","scale":{"domain":[1.1,2.73,4.37,6,7.63,9.27,10.9],"range":["#4575b4","#91bfdb","#e0f3f8","#ffffbf","#fee090","#fc8d59","#d73027"]},"legend":{"title":null,"orient":"none","legendX":160,"legendY":0,"gradientLength":48,"values":[2,4,6,8,10]}}}},{"mark":"text","encoding":{"text":{"field":"value","type":"quantitative","format":".2f"}}}]}
]}]},
{"bounds":"flush","spacing":171.5,"resolve":{"scale":{"color":"independent"}},"hconcat":[
{"bounds":"flush","spacing":31,"resolve":{"scale":{"color":"independent"}},"vconcat":[{"width":1,"height":1,"data":{"values":[]},"mark":"text","encoding":{}},{"bounds":"flush","spacing":48.5,"resolve":{"scale":{"color":"independent"}},"vconcat":[
{"data":{"name":"a1"},"width":91.5,"height":92.5,"title":{"text":"Calcium sensor synaptotagmin","dx":-5.5,"offset":5},"encoding":{"x":{"field":"temp","type":"ordinal","title":null,"scale":{"domain":[5,0,-5,-10,-15,-20,-25]},"axis":{"labelExpr":"datum.value+'°C'","labelAngle":0,"labelFontSize":4,"labelPadding":2}},"y":{"field":"gene","type":"nominal","sort":null,"title":null,"axis":{"orient":"right","labelFontSize":6,"labelPadding":2}}},"layer":[{"mark":"rect","encoding":{"color":{"field":"value","type":"quantitative","scale":{"domain":[0,8.33,16.67,25,33.33,41.67,50],"range":["#4575b4","#91bfdb","#e0f3f8","#ffffbf","#fee090","#fc8d59","#d73027"]},"legend":{"title":null,"orient":"none","legendX":152.5,"legendY":0,"gradientLength":55,"values":[0,10,20,30,40,50]}}}},{"mark":"text","encoding":{"text":{"field":"value","type":"quantitative","format":".2f"}}}]},
{"bounds":"flush","spacing":95,"resolve":{"scale":{"color":"independent"}},"vconcat":[
{"data":{"name":"a2"},"width":89.5,"height":84,"title":{"text":"Cyclic nucleotide gated channels","dx":-8.5,"offset":9},"encoding":{"x":{"field":"temp","type":"ordinal","title":null,"scale":{"domain":[5,0,-5,-10,-15,-20,-25]},"axis":{"labelExpr":"datum.value+'°C'","labelAngle":0,"labelFontSize":4,"labelPadding":4}},"y":{"field":"gene","type":"nominal","sort":null,"title":null,"axis":{"orient":"right","labelFontSize":6,"labelPadding":1.5}}},"layer":[{"mark":"rect","encoding":{"color":{"field":"value","type":"quantitative","scale":{"domain":[0,2.33,4.67,7,9.33,11.67,14],"range":["#4575b4","#91bfdb","#e0f3f8","#ffffbf","#fee090","#fc8d59","#d73027"]},"legend":{"title":null,"orient":"none","legendX":148.5,"legendY":-1,"gradientLength":72,"values":[0,2,4,6,8,10,12,14]}}}},{"mark":"text","encoding":{"text":{"field":"value","type":"quantitative","format":".2f"}}}]},
{"data":{"name":"a3"},"width":89.5,"height":24.5,"title":{"text":"Mid1 complementing activity","dx":-2.5,"offset":18},"encoding":{"x":{"field":"temp","type":"ordinal","title":null,"scale":{"domain":[5,0,-5,-10,-15,-20,-25]},"axis":{"labelExpr":"datum.value+'°C'","labelAngle":0,"labelFontSize":4,"labelPadding":4}},"y":{"field":"gene","type":"nominal","sort":null,"title":null,"axis":{"orient":"right","labelFontSize":6,"labelPadding":1}}},"layer":[{"mark":"rect","encoding":{"color":{"field":"value","type":"quantitative","scale":{"domain":[0,0.83,1.67,2.5,3.33,4.17,5],"range":["#4575b4","#91bfdb","#e0f3f8","#ffffbf","#fee090","#fc8d59","#d73027"]},"legend":{"title":null,"orient":"none","legendX":152.5,"legendY":-17,"gradientLength":46,"values":[0,1,2,3,4,5]}}}},{"mark":{"type":"text","fontSize":4},"encoding":{"text":{"field":"value","type":"quantitative","format":".2f"}}}]}
]}]}]},
{"bounds":"flush","spacing":5.5,"resolve":{"scale":{"color":"independent"}},"hconcat":[
{"bounds":"flush","spacing":1,"vconcat":[{"width":1,"height":1,"data":{"values":[]},"mark":"text","encoding":{}},{"width":1,"height":1,"data":{"values":[{"label":"B"}]},"mark":{"type":"text","align":"left","baseline":"top","font":"Liberation Sans","fontSize":14,"fontWeight":"bold"},"encoding":{"text":{"field":"label"}}}]},
{"bounds":"flush","spacing":1.5,"resolve":{"scale":{"color":"independent"}},"hconcat":[
{"bounds":"flush","spacing":27,"resolve":{"scale":{"color":"independent"}},"vconcat":[{"width":1,"height":1,"data":{"values":[]},"mark":"text","encoding":{}},
{"data":{"name":"b1"},"width":91,"height":171,"title":{"text":"Calmodulins","dx":12.5,"offset":1},"encoding":{"x":{"field":"temp","type":"ordinal","title":null,"scale":{"domain":[5,0,-5,-10,-15,-20,-25]},"axis":{"labelExpr":"datum.value+'°C'","labelAngle":0,"labelFontSize":4,"labelPadding":4}},"y":{"field":"gene","type":"nominal","sort":null,"title":null,"axis":{"orient":"right","labelFontSize":6,"labelPadding":1}}},"layer":[{"mark":"rect","encoding":{"color":{"field":"value","type":"quantitative","scale":{"domain":[0,24.33,48.67,73,97.33,121.67,146],"range":["#4575b4","#91bfdb","#e0f3f8","#ffffbf","#fee090","#fc8d59","#d73027"]},"legend":{"title":null,"orient":"none","legendX":152.5,"legendY":2,"gradientLength":64,"values":[0,20,40,60,80,100,120,140]}}}},{"mark":"text","encoding":{"text":{"field":"value","type":"quantitative","format":".2f"}}}]}]},
{"bounds":"flush","spacing":17,"resolve":{"scale":{"color":"independent"}},"hconcat":[
{"bounds":"flush","spacing":284,"resolve":{"scale":{"color":"independent"}},"vconcat":[{"width":1,"height":1,"data":{"values":[]},"mark":"text","encoding":{}},
{"data":{"name":"b2"},"width":85,"height":95,"title":{"text":"CaM-like proteins","dx":2,"offset":0},"encoding":{"x":{"field":"temp","type":"ordinal","title":null,"scale":{"domain":[5,0,-5,-10,-15,-20,-25]},"axis":{"labelExpr":"datum.value+'°C'","labelAngle":0,"labelFontSize":4,"labelPadding":5}},"y":{"field":"gene","type":"nominal","sort":null,"title":null,"axis":{"orient":"right","labelFontSize":6,"labelPadding":1}}},"layer":[{"mark":"rect","encoding":{"color":{"field":"value","type":"quantitative","scale":{"domain":[0,2.7,5.4,8.1,10.8,13.5,16.2],"range":["#4575b4","#91bfdb","#e0f3f8","#ffffbf","#fee090","#fc8d59","#d73027"]},"legend":{"title":null,"orient":"none","legendX":145,"legendY":4,"gradientLength":58,"values":[0,5,10,15]}}}},{"mark":{"type":"text","fontSize":4},"encoding":{"text":{"field":"value","type":"quantitative","format":".2f"}}}]}]},
{"bounds":"flush","spacing":156,"resolve":{"scale":{"color":"independent"}},"hconcat":[
{"bounds":"flush","spacing":445,"resolve":{"scale":{"color":"independent"}},"vconcat":[{"width":1,"height":1,"data":{"values":[]},"mark":"text","encoding":{}},
{"data":{"name":"mk"},"width":112,"height":232,"title":{"text":"MAP kinases","dx":20,"offset":4},"encoding":{"x":{"field":"temp","type":"ordinal","title":null,"scale":{"domain":[5,0,-5,-10,-15,-20,-25]},"axis":{"labelExpr":"datum.value+'°C'","labelAngle":0,"labelFontSize":4,"labelPadding":3}},"y":{"field":"gene","type":"nominal","sort":null,"title":null,"axis":{"orient":"right","labelFontSize":6,"labelPadding":6}}},"layer":[{"mark":"rect","encoding":{"color":{"field":"value","type":"quantitative","scale":{"domain":[0,19.83,39.67,59.5,79.33,99.17,119],"range":["#4575b4","#91bfdb","#e0f3f8","#ffffbf","#fee090","#fc8d59","#d73027"]},"legend":{"title":null,"orient":"none","legendX":185,"legendY":2,"gradientLength":79,"values":[0,20,40,60,80,100]}}}},{"mark":"text","encoding":{"text":{"field":"value","type":"quantitative","format":".2f"}}}]}]},
{"bounds":"flush","spacing":54,"resolve":{"scale":{"color":"independent"}},"hconcat":[
{"bounds":"flush","spacing":25,"resolve":{"scale":{"color":"independent"}},"vconcat":[{"width":1,"height":1,"data":{"values":[]},"mark":"text","encoding":{}},{"bounds":"flush","spacing":44,"resolve":{"scale":{"color":"independent"}},"vconcat":[
{"data":{"name":"ca"},"width":96,"height":168,"title":{"text":"Ca²⁺-dependent protein kinases","dx":-11,"offset":2,"fontSize":13},"encoding":{"x":{"field":"temp","type":"ordinal","title":null,"scale":{"domain":[5,0,-5,-10,-15,-20,-25]},"axis":{"labelExpr":"datum.value+'°C'","labelAngle":0,"labelFontSize":4,"labelPadding":2}},"y":{"field":"gene","type":"nominal","sort":null,"title":null,"axis":{"orient":"right","labelFontSize":6,"labelPadding":2}}},"layer":[{"mark":"rect","encoding":{"color":{"field":"value","type":"quantitative","scale":{"domain":[0,13.33,26.67,40,53.33,66.67,80],"range":["#4575b4","#91bfdb","#e0f3f8","#ffffbf","#fee090","#fc8d59","#d73027"]},"legend":{"title":null,"orient":"none","legendX":162,"legendY":0,"gradientLength":60,"values":[0,20,40,60,80]}}}},{"mark":{"type":"text","fontSize":3.2},"encoding":{"text":{"field":"value","type":"quantitative","format":".2f"}}}]},
{"data":{"name":"cn"},"width":95,"height":147,"title":{"text":"Calcineurin B-like proteins","dx":8,"offset":4,"fontSize":13},"encoding":{"x":{"field":"temp","type":"ordinal","title":null,"scale":{"domain":[5,0,-5,-10,-15,-20,-25]},"axis":{"labelExpr":"datum.value+'°C'","labelAngle":0,"labelFontSize":4,"labelPadding":3}},"y":{"field":"gene","type":"nominal","sort":null,"title":null,"axis":{"orient":"right","labelFontSize":6,"labelPadding":1}}},"layer":[{"mark":"rect","encoding":{"color":{"field":"value","type":"quantitative","scale":{"domain":[0,7.67,15.33,23,30.67,38.33,46],"range":["#4575b4","#91bfdb","#e0f3f8","#ffffbf","#fee090","#fc8d59","#d73027"]},"legend":{"title":null,"orient":"none","legendX":155,"legendY":3,"gradientLength":55,"values":[0,10,20,30,40]}}}},{"mark":"text","encoding":{"text":{"field":"value","type":"quantitative","format":".2f"}}}]}
]}]},
{"bounds":"flush","spacing":21,"resolve":{"scale":{"color":"independent"}},"hconcat":[
{"bounds":"flush","spacing":410,"vconcat":[{"width":1,"height":1,"data":{"values":[]},"mark":"text","encoding":{}},{"width":1,"height":1,"data":{"values":[{"label":"D"}]},"mark":{"type":"text","align":"left","baseline":"top","font":"Liberation Sans","fontSize":14,"fontWeight":"bold"},"encoding":{"text":{"field":"label"}}}]},
{"bounds":"flush","spacing":117,"resolve":{"scale":{"color":"independent"}},"hconcat":[
{"bounds":"flush","spacing":446,"resolve":{"scale":{"color":"independent"}},"vconcat":[{"width":1,"height":1,"data":{"values":[]},"mark":"text","encoding":{}},
{"data":{"name":"rb"},"width":125,"height":131,"title":{"text":"Respiratory burst oxidase homologs","dx":-4,"offset":2},"encoding":{"x":{"field":"temp","type":"ordinal","title":null,"scale":{"domain":[5,0,-5,-10,-15,-20,-25]},"axis":{"labelExpr":"datum.value+'°C'","labelAngle":0,"labelFontSize":4,"labelPadding":3}},"y":{"field":"gene","type":"nominal","sort":null,"title":null,"axis":{"orient":"right","labelFontSize":6,"labelPadding":10}}},"layer":[{"mark":"rect","encoding":{"color":{"field":"value","type":"quantitative","scale":{"domain":[0,2.07,4.13,6.2,8.27,10.33,12.4],"range":["#4575b4","#91bfdb","#e0f3f8","#ffffbf","#fee090","#fc8d59","#d73027"]},"legend":{"title":null,"orient":"none","legendX":209,"legendY":0,"gradientLength":49,"values":[0,2,4,6,8,10,12]}}}},{"mark":{"type":"text","fontSize":4},"encoding":{"text":{"field":"value","type":"quantitative","format":".2f"}}}]}]},
{"bounds":"flush","spacing":27,"resolve":{"scale":{"color":"independent"}},"vconcat":[{"width":1,"height":1,"data":{"values":[]},"mark":"text","encoding":{}},{"bounds":"flush","spacing":100,"resolve":{"scale":{"color":"independent"}},"vconcat":[
{"data":{"name":"cbl"},"width":114,"height":220,"title":{"text":"CBL-interacting protein kinases","dx":-2,"offset":1,"fontSize":13.4},"encoding":{"x":{"field":"temp","type":"ordinal","title":null,"scale":{"domain":[5,0,-5,-10,-15,-20,-25]},"axis":{"labelExpr":"datum.value+'°C'","labelAngle":0,"labelFontSize":4,"labelPadding":4}},"y":{"field":"gene","type":"nominal","sort":null,"title":null,"axis":{"orient":"right","labelFontSize":6,"labelPadding":6}}},"layer":[{"mark":"rect","encoding":{"color":{"field":"value","type":"quantitative","scale":{"domain":[0,5.83,11.67,17.5,23.33,29.17,35],"range":["#4575b4","#91bfdb","#e0f3f8","#ffffbf","#fee090","#fc8d59","#d73027"]},"legend":{"title":null,"orient":"none","legendX":186,"legendY":8,"gradientLength":74,"values":[0,5,10,15,20,25,30,35]}}}},{"mark":{"type":"text","fontSize":3.2},"encoding":{"text":{"field":"value","type":"quantitative","format":".2f"}}}]},
{"data":{"name":"crr"},"width":108,"height":36,"title":{"text":"Ca²⁺/CaM-regulated receptor-like kinases","dx":-9,"offset":7},"encoding":{"x":{"field":"temp","type":"ordinal","title":null,"scale":{"domain":[5,0,-5,-10,-15,-20,-25]},"axis":{"labelExpr":"datum.value+'°C'","labelAngle":0,"labelFontSize":4,"labelPadding":2}},"y":{"field":"gene","type":"nominal","sort":null,"title":null,"axis":{"orient":"right","labelFontSize":7.1,"labelPadding":5}}},"layer":[{"mark":"rect","encoding":{"color":{"field":"value","type":"quantitative","scale":{"domain":[0,0.5,1,1.5,2,2.5,3],"range":["#4575b4","#91bfdb","#e0f3f8","#ffffbf","#fee090","#fc8d59","#d73027"]},"legend":{"title":null,"orient":"none","legendX":189,"legendY":-2,"gradientLength":41,"values":[0,0.5,1,1.5,2,2.5,3]}}}},{"mark":{"type":"text","fontSize":4},"encoding":{"text":{"field":"value","type":"quantitative","format":".2f"}}}]}
]}]}
]}]}]}]}]}]}]}]}]}]}]}
